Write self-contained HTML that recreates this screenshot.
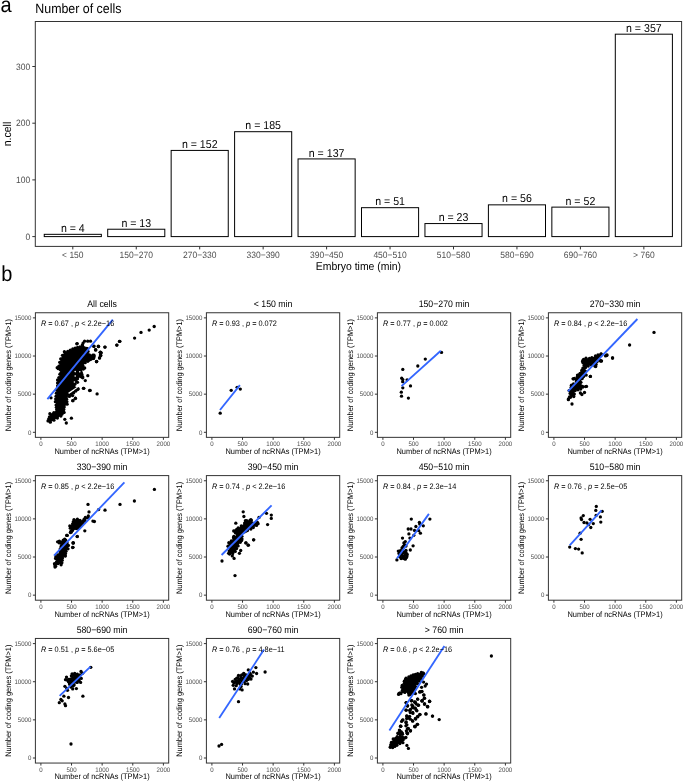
<!DOCTYPE html>
<html><head><meta charset="utf-8"><style>
html,body{margin:0;padding:0;background:#fff;width:685px;height:784px;overflow:hidden}
svg{display:block;will-change:transform}
text{font-family:"Liberation Sans", sans-serif;text-rendering:geometricPrecision}
</style></head><body>
<svg width="685" height="784" viewBox="0 0 685 784" font-family='"Liberation Sans", sans-serif'><text x="0" y="0" transform="translate(0.40,11.60) scale(1,1.08)" font-size="20" fill="#000" text-anchor="start" >a</text>
<text x="0" y="0" transform="translate(35.30,13.25) scale(1,1.08)" font-size="12.4" fill="#000" text-anchor="start" >Number of cells</text>
<rect x="35.30" y="21.50" width="646.30" height="224.90" stroke="#333" stroke-width="1" fill="none"/>
<line x1="32.30" y1="236.60" x2="35.30" y2="236.60" stroke="#333" stroke-width="1"/>
<text x="0" y="0" transform="translate(30.30,239.60) scale(1,1.08)" font-size="8.5" fill="#4d4d4d" text-anchor="end" >0</text>
<line x1="32.30" y1="179.90" x2="35.30" y2="179.90" stroke="#333" stroke-width="1"/>
<text x="0" y="0" transform="translate(30.30,182.90) scale(1,1.08)" font-size="8.5" fill="#4d4d4d" text-anchor="end" >100</text>
<line x1="32.30" y1="123.20" x2="35.30" y2="123.20" stroke="#333" stroke-width="1"/>
<text x="0" y="0" transform="translate(30.30,126.20) scale(1,1.08)" font-size="8.5" fill="#4d4d4d" text-anchor="end" >200</text>
<line x1="32.30" y1="66.50" x2="35.30" y2="66.50" stroke="#333" stroke-width="1"/>
<text x="0" y="0" transform="translate(30.30,69.50) scale(1,1.08)" font-size="8.5" fill="#4d4d4d" text-anchor="end" >300</text>
<rect x="44.25" y="234.33" width="57.10" height="2.27" stroke="#000" stroke-width="1" fill="#fff"/>
<line x1="72.80" y1="246.40" x2="72.80" y2="249.40" stroke="#333" stroke-width="1"/>
<text x="0" y="0" transform="translate(72.80,258.00) scale(1,1.08)" font-size="8.5" fill="#4d4d4d" text-anchor="middle" >&lt; 150</text>
<text x="0" y="0" transform="translate(72.80,231.93) scale(1,1.08)" font-size="10.6" fill="#000" text-anchor="middle" >n = 4</text>
<rect x="107.70" y="229.23" width="57.10" height="7.37" stroke="#000" stroke-width="1" fill="#fff"/>
<line x1="136.25" y1="246.40" x2="136.25" y2="249.40" stroke="#333" stroke-width="1"/>
<text x="0" y="0" transform="translate(136.25,258.00) scale(1,1.08)" font-size="8.5" fill="#4d4d4d" text-anchor="middle" >150−270</text>
<text x="0" y="0" transform="translate(136.25,226.83) scale(1,1.08)" font-size="10.6" fill="#000" text-anchor="middle" >n = 13</text>
<rect x="171.15" y="150.42" width="57.10" height="86.18" stroke="#000" stroke-width="1" fill="#fff"/>
<line x1="199.70" y1="246.40" x2="199.70" y2="249.40" stroke="#333" stroke-width="1"/>
<text x="0" y="0" transform="translate(199.70,258.00) scale(1,1.08)" font-size="8.5" fill="#4d4d4d" text-anchor="middle" >270−330</text>
<text x="0" y="0" transform="translate(199.70,148.02) scale(1,1.08)" font-size="10.6" fill="#000" text-anchor="middle" >n = 152</text>
<rect x="234.60" y="131.70" width="57.10" height="104.90" stroke="#000" stroke-width="1" fill="#fff"/>
<line x1="263.15" y1="246.40" x2="263.15" y2="249.40" stroke="#333" stroke-width="1"/>
<text x="0" y="0" transform="translate(263.15,258.00) scale(1,1.08)" font-size="8.5" fill="#4d4d4d" text-anchor="middle" >330−390</text>
<text x="0" y="0" transform="translate(263.15,129.30) scale(1,1.08)" font-size="10.6" fill="#000" text-anchor="middle" >n = 185</text>
<rect x="298.05" y="158.92" width="57.10" height="77.68" stroke="#000" stroke-width="1" fill="#fff"/>
<line x1="326.60" y1="246.40" x2="326.60" y2="249.40" stroke="#333" stroke-width="1"/>
<text x="0" y="0" transform="translate(326.60,258.00) scale(1,1.08)" font-size="8.5" fill="#4d4d4d" text-anchor="middle" >390−450</text>
<text x="0" y="0" transform="translate(326.60,156.52) scale(1,1.08)" font-size="10.6" fill="#000" text-anchor="middle" >n = 137</text>
<rect x="361.50" y="207.68" width="57.10" height="28.92" stroke="#000" stroke-width="1" fill="#fff"/>
<line x1="390.05" y1="246.40" x2="390.05" y2="249.40" stroke="#333" stroke-width="1"/>
<text x="0" y="0" transform="translate(390.05,258.00) scale(1,1.08)" font-size="8.5" fill="#4d4d4d" text-anchor="middle" >450−510</text>
<text x="0" y="0" transform="translate(390.05,205.28) scale(1,1.08)" font-size="10.6" fill="#000" text-anchor="middle" >n = 51</text>
<rect x="424.95" y="223.56" width="57.10" height="13.04" stroke="#000" stroke-width="1" fill="#fff"/>
<line x1="453.50" y1="246.40" x2="453.50" y2="249.40" stroke="#333" stroke-width="1"/>
<text x="0" y="0" transform="translate(453.50,258.00) scale(1,1.08)" font-size="8.5" fill="#4d4d4d" text-anchor="middle" >510−580</text>
<text x="0" y="0" transform="translate(453.50,221.16) scale(1,1.08)" font-size="10.6" fill="#000" text-anchor="middle" >n = 23</text>
<rect x="488.40" y="204.85" width="57.10" height="31.75" stroke="#000" stroke-width="1" fill="#fff"/>
<line x1="516.95" y1="246.40" x2="516.95" y2="249.40" stroke="#333" stroke-width="1"/>
<text x="0" y="0" transform="translate(516.95,258.00) scale(1,1.08)" font-size="8.5" fill="#4d4d4d" text-anchor="middle" >580−690</text>
<text x="0" y="0" transform="translate(516.95,202.45) scale(1,1.08)" font-size="10.6" fill="#000" text-anchor="middle" >n = 56</text>
<rect x="551.85" y="207.12" width="57.10" height="29.48" stroke="#000" stroke-width="1" fill="#fff"/>
<line x1="580.40" y1="246.40" x2="580.40" y2="249.40" stroke="#333" stroke-width="1"/>
<text x="0" y="0" transform="translate(580.40,258.00) scale(1,1.08)" font-size="8.5" fill="#4d4d4d" text-anchor="middle" >690−760</text>
<text x="0" y="0" transform="translate(580.40,204.72) scale(1,1.08)" font-size="10.6" fill="#000" text-anchor="middle" >n = 52</text>
<rect x="615.30" y="34.18" width="57.10" height="202.42" stroke="#000" stroke-width="1" fill="#fff"/>
<line x1="643.85" y1="246.40" x2="643.85" y2="249.40" stroke="#333" stroke-width="1"/>
<text x="0" y="0" transform="translate(643.85,258.00) scale(1,1.08)" font-size="8.5" fill="#4d4d4d" text-anchor="middle" >&gt; 760</text>
<text x="0" y="0" transform="translate(643.85,31.78) scale(1,1.08)" font-size="10.6" fill="#000" text-anchor="middle" >n = 357</text>
<text x="0" y="0" transform="translate(358.45,270.40) scale(1,1.08)" font-size="10.45" fill="#000" text-anchor="middle" >Embryo time (min)</text>
<text x="0" y="0" font-size="10.5" text-anchor="middle" transform="translate(11.2,134) rotate(-90) scale(1,1.08)">n.cell</text>
<text x="0" y="0" transform="translate(1.20,281.20) scale(1,1.08)" font-size="20" fill="#000" text-anchor="start" >b</text>
<rect x="35.40" y="312.75" width="133.30" height="124.60" stroke="#333" stroke-width="1" fill="none"/>
<text x="0" y="0" transform="translate(102.05,307.15) scale(1,1.08)" font-size="8.75" fill="#000" text-anchor="middle" >All cells</text>
<line x1="32.90" y1="432.30" x2="35.40" y2="432.30" stroke="#333" stroke-width="1"/>
<text x="0" y="0" transform="translate(31.40,434.50) scale(1,1.08)" font-size="6.1" fill="#4d4d4d" text-anchor="end" >0</text>
<line x1="32.90" y1="394.17" x2="35.40" y2="394.17" stroke="#333" stroke-width="1"/>
<text x="0" y="0" transform="translate(31.40,396.37) scale(1,1.08)" font-size="6.1" fill="#4d4d4d" text-anchor="end" >5000</text>
<line x1="32.90" y1="356.03" x2="35.40" y2="356.03" stroke="#333" stroke-width="1"/>
<text x="0" y="0" transform="translate(31.40,358.23) scale(1,1.08)" font-size="6.1" fill="#4d4d4d" text-anchor="end" >10000</text>
<line x1="32.90" y1="317.89" x2="35.40" y2="317.89" stroke="#333" stroke-width="1"/>
<text x="0" y="0" transform="translate(31.40,320.09) scale(1,1.08)" font-size="6.1" fill="#4d4d4d" text-anchor="end" >15000</text>
<line x1="40.90" y1="437.35" x2="40.90" y2="439.85" stroke="#333" stroke-width="1"/>
<text x="0" y="0" transform="translate(40.90,445.85) scale(1,1.08)" font-size="6.1" fill="#4d4d4d" text-anchor="middle" >0</text>
<line x1="71.53" y1="437.35" x2="71.53" y2="439.85" stroke="#333" stroke-width="1"/>
<text x="0" y="0" transform="translate(71.53,445.85) scale(1,1.08)" font-size="6.1" fill="#4d4d4d" text-anchor="middle" >500</text>
<line x1="102.15" y1="437.35" x2="102.15" y2="439.85" stroke="#333" stroke-width="1"/>
<text x="0" y="0" transform="translate(102.15,445.85) scale(1,1.08)" font-size="6.1" fill="#4d4d4d" text-anchor="middle" >1000</text>
<line x1="132.78" y1="437.35" x2="132.78" y2="439.85" stroke="#333" stroke-width="1"/>
<text x="0" y="0" transform="translate(132.78,445.85) scale(1,1.08)" font-size="6.1" fill="#4d4d4d" text-anchor="middle" >1500</text>
<line x1="163.40" y1="437.35" x2="163.40" y2="439.85" stroke="#333" stroke-width="1"/>
<text x="0" y="0" transform="translate(163.40,445.85) scale(1,1.08)" font-size="6.1" fill="#4d4d4d" text-anchor="middle" >2000</text>
<text x="0" y="0" transform="translate(102.05,453.75) scale(1,1.08)" font-size="7.45" fill="#000" text-anchor="middle" >Number of ncRNAs (TPM&gt;1)</text>
<text x="0" y="0" font-size="7.45" text-anchor="middle" transform="translate(11.10,375.05) rotate(-90) scale(1,1.08)">Number of coding genes (TPM&gt;1)</text>
<rect x="206.40" y="312.75" width="133.30" height="124.60" stroke="#333" stroke-width="1" fill="none"/>
<text x="0" y="0" transform="translate(273.05,307.15) scale(1,1.08)" font-size="8.75" fill="#000" text-anchor="middle" >&lt; 150 min</text>
<line x1="203.90" y1="432.30" x2="206.40" y2="432.30" stroke="#333" stroke-width="1"/>
<text x="0" y="0" transform="translate(202.40,434.50) scale(1,1.08)" font-size="6.1" fill="#4d4d4d" text-anchor="end" >0</text>
<line x1="203.90" y1="394.17" x2="206.40" y2="394.17" stroke="#333" stroke-width="1"/>
<text x="0" y="0" transform="translate(202.40,396.37) scale(1,1.08)" font-size="6.1" fill="#4d4d4d" text-anchor="end" >5000</text>
<line x1="203.90" y1="356.03" x2="206.40" y2="356.03" stroke="#333" stroke-width="1"/>
<text x="0" y="0" transform="translate(202.40,358.23) scale(1,1.08)" font-size="6.1" fill="#4d4d4d" text-anchor="end" >10000</text>
<line x1="203.90" y1="317.89" x2="206.40" y2="317.89" stroke="#333" stroke-width="1"/>
<text x="0" y="0" transform="translate(202.40,320.09) scale(1,1.08)" font-size="6.1" fill="#4d4d4d" text-anchor="end" >15000</text>
<line x1="211.90" y1="437.35" x2="211.90" y2="439.85" stroke="#333" stroke-width="1"/>
<text x="0" y="0" transform="translate(211.90,445.85) scale(1,1.08)" font-size="6.1" fill="#4d4d4d" text-anchor="middle" >0</text>
<line x1="242.53" y1="437.35" x2="242.53" y2="439.85" stroke="#333" stroke-width="1"/>
<text x="0" y="0" transform="translate(242.53,445.85) scale(1,1.08)" font-size="6.1" fill="#4d4d4d" text-anchor="middle" >500</text>
<line x1="273.15" y1="437.35" x2="273.15" y2="439.85" stroke="#333" stroke-width="1"/>
<text x="0" y="0" transform="translate(273.15,445.85) scale(1,1.08)" font-size="6.1" fill="#4d4d4d" text-anchor="middle" >1000</text>
<line x1="303.77" y1="437.35" x2="303.77" y2="439.85" stroke="#333" stroke-width="1"/>
<text x="0" y="0" transform="translate(303.77,445.85) scale(1,1.08)" font-size="6.1" fill="#4d4d4d" text-anchor="middle" >1500</text>
<line x1="334.40" y1="437.35" x2="334.40" y2="439.85" stroke="#333" stroke-width="1"/>
<text x="0" y="0" transform="translate(334.40,445.85) scale(1,1.08)" font-size="6.1" fill="#4d4d4d" text-anchor="middle" >2000</text>
<text x="0" y="0" transform="translate(273.05,453.75) scale(1,1.08)" font-size="7.45" fill="#000" text-anchor="middle" >Number of ncRNAs (TPM&gt;1)</text>
<text x="0" y="0" font-size="7.45" text-anchor="middle" transform="translate(182.10,375.05) rotate(-90) scale(1,1.08)">Number of coding genes (TPM&gt;1)</text>
<rect x="377.40" y="312.75" width="133.30" height="124.60" stroke="#333" stroke-width="1" fill="none"/>
<text x="0" y="0" transform="translate(444.05,307.15) scale(1,1.08)" font-size="8.75" fill="#000" text-anchor="middle" >150−270 min</text>
<line x1="374.90" y1="432.30" x2="377.40" y2="432.30" stroke="#333" stroke-width="1"/>
<text x="0" y="0" transform="translate(373.40,434.50) scale(1,1.08)" font-size="6.1" fill="#4d4d4d" text-anchor="end" >0</text>
<line x1="374.90" y1="394.17" x2="377.40" y2="394.17" stroke="#333" stroke-width="1"/>
<text x="0" y="0" transform="translate(373.40,396.37) scale(1,1.08)" font-size="6.1" fill="#4d4d4d" text-anchor="end" >5000</text>
<line x1="374.90" y1="356.03" x2="377.40" y2="356.03" stroke="#333" stroke-width="1"/>
<text x="0" y="0" transform="translate(373.40,358.23) scale(1,1.08)" font-size="6.1" fill="#4d4d4d" text-anchor="end" >10000</text>
<line x1="374.90" y1="317.89" x2="377.40" y2="317.89" stroke="#333" stroke-width="1"/>
<text x="0" y="0" transform="translate(373.40,320.09) scale(1,1.08)" font-size="6.1" fill="#4d4d4d" text-anchor="end" >15000</text>
<line x1="382.90" y1="437.35" x2="382.90" y2="439.85" stroke="#333" stroke-width="1"/>
<text x="0" y="0" transform="translate(382.90,445.85) scale(1,1.08)" font-size="6.1" fill="#4d4d4d" text-anchor="middle" >0</text>
<line x1="413.52" y1="437.35" x2="413.52" y2="439.85" stroke="#333" stroke-width="1"/>
<text x="0" y="0" transform="translate(413.52,445.85) scale(1,1.08)" font-size="6.1" fill="#4d4d4d" text-anchor="middle" >500</text>
<line x1="444.15" y1="437.35" x2="444.15" y2="439.85" stroke="#333" stroke-width="1"/>
<text x="0" y="0" transform="translate(444.15,445.85) scale(1,1.08)" font-size="6.1" fill="#4d4d4d" text-anchor="middle" >1000</text>
<line x1="474.77" y1="437.35" x2="474.77" y2="439.85" stroke="#333" stroke-width="1"/>
<text x="0" y="0" transform="translate(474.77,445.85) scale(1,1.08)" font-size="6.1" fill="#4d4d4d" text-anchor="middle" >1500</text>
<line x1="505.40" y1="437.35" x2="505.40" y2="439.85" stroke="#333" stroke-width="1"/>
<text x="0" y="0" transform="translate(505.40,445.85) scale(1,1.08)" font-size="6.1" fill="#4d4d4d" text-anchor="middle" >2000</text>
<text x="0" y="0" transform="translate(444.05,453.75) scale(1,1.08)" font-size="7.45" fill="#000" text-anchor="middle" >Number of ncRNAs (TPM&gt;1)</text>
<text x="0" y="0" font-size="7.45" text-anchor="middle" transform="translate(353.10,375.05) rotate(-90) scale(1,1.08)">Number of coding genes (TPM&gt;1)</text>
<rect x="548.40" y="312.75" width="133.30" height="124.60" stroke="#333" stroke-width="1" fill="none"/>
<text x="0" y="0" transform="translate(615.05,307.15) scale(1,1.08)" font-size="8.75" fill="#000" text-anchor="middle" >270−330 min</text>
<line x1="545.90" y1="432.30" x2="548.40" y2="432.30" stroke="#333" stroke-width="1"/>
<text x="0" y="0" transform="translate(544.40,434.50) scale(1,1.08)" font-size="6.1" fill="#4d4d4d" text-anchor="end" >0</text>
<line x1="545.90" y1="394.17" x2="548.40" y2="394.17" stroke="#333" stroke-width="1"/>
<text x="0" y="0" transform="translate(544.40,396.37) scale(1,1.08)" font-size="6.1" fill="#4d4d4d" text-anchor="end" >5000</text>
<line x1="545.90" y1="356.03" x2="548.40" y2="356.03" stroke="#333" stroke-width="1"/>
<text x="0" y="0" transform="translate(544.40,358.23) scale(1,1.08)" font-size="6.1" fill="#4d4d4d" text-anchor="end" >10000</text>
<line x1="545.90" y1="317.89" x2="548.40" y2="317.89" stroke="#333" stroke-width="1"/>
<text x="0" y="0" transform="translate(544.40,320.09) scale(1,1.08)" font-size="6.1" fill="#4d4d4d" text-anchor="end" >15000</text>
<line x1="553.90" y1="437.35" x2="553.90" y2="439.85" stroke="#333" stroke-width="1"/>
<text x="0" y="0" transform="translate(553.90,445.85) scale(1,1.08)" font-size="6.1" fill="#4d4d4d" text-anchor="middle" >0</text>
<line x1="584.52" y1="437.35" x2="584.52" y2="439.85" stroke="#333" stroke-width="1"/>
<text x="0" y="0" transform="translate(584.52,445.85) scale(1,1.08)" font-size="6.1" fill="#4d4d4d" text-anchor="middle" >500</text>
<line x1="615.15" y1="437.35" x2="615.15" y2="439.85" stroke="#333" stroke-width="1"/>
<text x="0" y="0" transform="translate(615.15,445.85) scale(1,1.08)" font-size="6.1" fill="#4d4d4d" text-anchor="middle" >1000</text>
<line x1="645.77" y1="437.35" x2="645.77" y2="439.85" stroke="#333" stroke-width="1"/>
<text x="0" y="0" transform="translate(645.77,445.85) scale(1,1.08)" font-size="6.1" fill="#4d4d4d" text-anchor="middle" >1500</text>
<line x1="676.40" y1="437.35" x2="676.40" y2="439.85" stroke="#333" stroke-width="1"/>
<text x="0" y="0" transform="translate(676.40,445.85) scale(1,1.08)" font-size="6.1" fill="#4d4d4d" text-anchor="middle" >2000</text>
<text x="0" y="0" transform="translate(615.05,453.75) scale(1,1.08)" font-size="7.45" fill="#000" text-anchor="middle" >Number of ncRNAs (TPM&gt;1)</text>
<text x="0" y="0" font-size="7.45" text-anchor="middle" transform="translate(524.10,375.05) rotate(-90) scale(1,1.08)">Number of coding genes (TPM&gt;1)</text>
<rect x="35.40" y="475.60" width="133.30" height="124.60" stroke="#333" stroke-width="1" fill="none"/>
<text x="0" y="0" transform="translate(102.05,470.00) scale(1,1.08)" font-size="8.75" fill="#000" text-anchor="middle" >330−390 min</text>
<line x1="32.90" y1="595.15" x2="35.40" y2="595.15" stroke="#333" stroke-width="1"/>
<text x="0" y="0" transform="translate(31.40,597.35) scale(1,1.08)" font-size="6.1" fill="#4d4d4d" text-anchor="end" >0</text>
<line x1="32.90" y1="557.01" x2="35.40" y2="557.01" stroke="#333" stroke-width="1"/>
<text x="0" y="0" transform="translate(31.40,559.22) scale(1,1.08)" font-size="6.1" fill="#4d4d4d" text-anchor="end" >5000</text>
<line x1="32.90" y1="518.88" x2="35.40" y2="518.88" stroke="#333" stroke-width="1"/>
<text x="0" y="0" transform="translate(31.40,521.08) scale(1,1.08)" font-size="6.1" fill="#4d4d4d" text-anchor="end" >10000</text>
<line x1="32.90" y1="480.75" x2="35.40" y2="480.75" stroke="#333" stroke-width="1"/>
<text x="0" y="0" transform="translate(31.40,482.94) scale(1,1.08)" font-size="6.1" fill="#4d4d4d" text-anchor="end" >15000</text>
<line x1="40.90" y1="600.20" x2="40.90" y2="602.70" stroke="#333" stroke-width="1"/>
<text x="0" y="0" transform="translate(40.90,608.70) scale(1,1.08)" font-size="6.1" fill="#4d4d4d" text-anchor="middle" >0</text>
<line x1="71.53" y1="600.20" x2="71.53" y2="602.70" stroke="#333" stroke-width="1"/>
<text x="0" y="0" transform="translate(71.53,608.70) scale(1,1.08)" font-size="6.1" fill="#4d4d4d" text-anchor="middle" >500</text>
<line x1="102.15" y1="600.20" x2="102.15" y2="602.70" stroke="#333" stroke-width="1"/>
<text x="0" y="0" transform="translate(102.15,608.70) scale(1,1.08)" font-size="6.1" fill="#4d4d4d" text-anchor="middle" >1000</text>
<line x1="132.78" y1="600.20" x2="132.78" y2="602.70" stroke="#333" stroke-width="1"/>
<text x="0" y="0" transform="translate(132.78,608.70) scale(1,1.08)" font-size="6.1" fill="#4d4d4d" text-anchor="middle" >1500</text>
<line x1="163.40" y1="600.20" x2="163.40" y2="602.70" stroke="#333" stroke-width="1"/>
<text x="0" y="0" transform="translate(163.40,608.70) scale(1,1.08)" font-size="6.1" fill="#4d4d4d" text-anchor="middle" >2000</text>
<text x="0" y="0" transform="translate(102.05,616.60) scale(1,1.08)" font-size="7.45" fill="#000" text-anchor="middle" >Number of ncRNAs (TPM&gt;1)</text>
<text x="0" y="0" font-size="7.45" text-anchor="middle" transform="translate(11.10,537.90) rotate(-90) scale(1,1.08)">Number of coding genes (TPM&gt;1)</text>
<rect x="206.40" y="475.60" width="133.30" height="124.60" stroke="#333" stroke-width="1" fill="none"/>
<text x="0" y="0" transform="translate(273.05,470.00) scale(1,1.08)" font-size="8.75" fill="#000" text-anchor="middle" >390−450 min</text>
<line x1="203.90" y1="595.15" x2="206.40" y2="595.15" stroke="#333" stroke-width="1"/>
<text x="0" y="0" transform="translate(202.40,597.35) scale(1,1.08)" font-size="6.1" fill="#4d4d4d" text-anchor="end" >0</text>
<line x1="203.90" y1="557.01" x2="206.40" y2="557.01" stroke="#333" stroke-width="1"/>
<text x="0" y="0" transform="translate(202.40,559.22) scale(1,1.08)" font-size="6.1" fill="#4d4d4d" text-anchor="end" >5000</text>
<line x1="203.90" y1="518.88" x2="206.40" y2="518.88" stroke="#333" stroke-width="1"/>
<text x="0" y="0" transform="translate(202.40,521.08) scale(1,1.08)" font-size="6.1" fill="#4d4d4d" text-anchor="end" >10000</text>
<line x1="203.90" y1="480.75" x2="206.40" y2="480.75" stroke="#333" stroke-width="1"/>
<text x="0" y="0" transform="translate(202.40,482.94) scale(1,1.08)" font-size="6.1" fill="#4d4d4d" text-anchor="end" >15000</text>
<line x1="211.90" y1="600.20" x2="211.90" y2="602.70" stroke="#333" stroke-width="1"/>
<text x="0" y="0" transform="translate(211.90,608.70) scale(1,1.08)" font-size="6.1" fill="#4d4d4d" text-anchor="middle" >0</text>
<line x1="242.53" y1="600.20" x2="242.53" y2="602.70" stroke="#333" stroke-width="1"/>
<text x="0" y="0" transform="translate(242.53,608.70) scale(1,1.08)" font-size="6.1" fill="#4d4d4d" text-anchor="middle" >500</text>
<line x1="273.15" y1="600.20" x2="273.15" y2="602.70" stroke="#333" stroke-width="1"/>
<text x="0" y="0" transform="translate(273.15,608.70) scale(1,1.08)" font-size="6.1" fill="#4d4d4d" text-anchor="middle" >1000</text>
<line x1="303.77" y1="600.20" x2="303.77" y2="602.70" stroke="#333" stroke-width="1"/>
<text x="0" y="0" transform="translate(303.77,608.70) scale(1,1.08)" font-size="6.1" fill="#4d4d4d" text-anchor="middle" >1500</text>
<line x1="334.40" y1="600.20" x2="334.40" y2="602.70" stroke="#333" stroke-width="1"/>
<text x="0" y="0" transform="translate(334.40,608.70) scale(1,1.08)" font-size="6.1" fill="#4d4d4d" text-anchor="middle" >2000</text>
<text x="0" y="0" transform="translate(273.05,616.60) scale(1,1.08)" font-size="7.45" fill="#000" text-anchor="middle" >Number of ncRNAs (TPM&gt;1)</text>
<text x="0" y="0" font-size="7.45" text-anchor="middle" transform="translate(182.10,537.90) rotate(-90) scale(1,1.08)">Number of coding genes (TPM&gt;1)</text>
<rect x="377.40" y="475.60" width="133.30" height="124.60" stroke="#333" stroke-width="1" fill="none"/>
<text x="0" y="0" transform="translate(444.05,470.00) scale(1,1.08)" font-size="8.75" fill="#000" text-anchor="middle" >450−510 min</text>
<line x1="374.90" y1="595.15" x2="377.40" y2="595.15" stroke="#333" stroke-width="1"/>
<text x="0" y="0" transform="translate(373.40,597.35) scale(1,1.08)" font-size="6.1" fill="#4d4d4d" text-anchor="end" >0</text>
<line x1="374.90" y1="557.01" x2="377.40" y2="557.01" stroke="#333" stroke-width="1"/>
<text x="0" y="0" transform="translate(373.40,559.22) scale(1,1.08)" font-size="6.1" fill="#4d4d4d" text-anchor="end" >5000</text>
<line x1="374.90" y1="518.88" x2="377.40" y2="518.88" stroke="#333" stroke-width="1"/>
<text x="0" y="0" transform="translate(373.40,521.08) scale(1,1.08)" font-size="6.1" fill="#4d4d4d" text-anchor="end" >10000</text>
<line x1="374.90" y1="480.75" x2="377.40" y2="480.75" stroke="#333" stroke-width="1"/>
<text x="0" y="0" transform="translate(373.40,482.94) scale(1,1.08)" font-size="6.1" fill="#4d4d4d" text-anchor="end" >15000</text>
<line x1="382.90" y1="600.20" x2="382.90" y2="602.70" stroke="#333" stroke-width="1"/>
<text x="0" y="0" transform="translate(382.90,608.70) scale(1,1.08)" font-size="6.1" fill="#4d4d4d" text-anchor="middle" >0</text>
<line x1="413.52" y1="600.20" x2="413.52" y2="602.70" stroke="#333" stroke-width="1"/>
<text x="0" y="0" transform="translate(413.52,608.70) scale(1,1.08)" font-size="6.1" fill="#4d4d4d" text-anchor="middle" >500</text>
<line x1="444.15" y1="600.20" x2="444.15" y2="602.70" stroke="#333" stroke-width="1"/>
<text x="0" y="0" transform="translate(444.15,608.70) scale(1,1.08)" font-size="6.1" fill="#4d4d4d" text-anchor="middle" >1000</text>
<line x1="474.77" y1="600.20" x2="474.77" y2="602.70" stroke="#333" stroke-width="1"/>
<text x="0" y="0" transform="translate(474.77,608.70) scale(1,1.08)" font-size="6.1" fill="#4d4d4d" text-anchor="middle" >1500</text>
<line x1="505.40" y1="600.20" x2="505.40" y2="602.70" stroke="#333" stroke-width="1"/>
<text x="0" y="0" transform="translate(505.40,608.70) scale(1,1.08)" font-size="6.1" fill="#4d4d4d" text-anchor="middle" >2000</text>
<text x="0" y="0" transform="translate(444.05,616.60) scale(1,1.08)" font-size="7.45" fill="#000" text-anchor="middle" >Number of ncRNAs (TPM&gt;1)</text>
<text x="0" y="0" font-size="7.45" text-anchor="middle" transform="translate(353.10,537.90) rotate(-90) scale(1,1.08)">Number of coding genes (TPM&gt;1)</text>
<rect x="548.40" y="475.60" width="133.30" height="124.60" stroke="#333" stroke-width="1" fill="none"/>
<text x="0" y="0" transform="translate(615.05,470.00) scale(1,1.08)" font-size="8.75" fill="#000" text-anchor="middle" >510−580 min</text>
<line x1="545.90" y1="595.15" x2="548.40" y2="595.15" stroke="#333" stroke-width="1"/>
<text x="0" y="0" transform="translate(544.40,597.35) scale(1,1.08)" font-size="6.1" fill="#4d4d4d" text-anchor="end" >0</text>
<line x1="545.90" y1="557.01" x2="548.40" y2="557.01" stroke="#333" stroke-width="1"/>
<text x="0" y="0" transform="translate(544.40,559.22) scale(1,1.08)" font-size="6.1" fill="#4d4d4d" text-anchor="end" >5000</text>
<line x1="545.90" y1="518.88" x2="548.40" y2="518.88" stroke="#333" stroke-width="1"/>
<text x="0" y="0" transform="translate(544.40,521.08) scale(1,1.08)" font-size="6.1" fill="#4d4d4d" text-anchor="end" >10000</text>
<line x1="545.90" y1="480.75" x2="548.40" y2="480.75" stroke="#333" stroke-width="1"/>
<text x="0" y="0" transform="translate(544.40,482.94) scale(1,1.08)" font-size="6.1" fill="#4d4d4d" text-anchor="end" >15000</text>
<line x1="553.90" y1="600.20" x2="553.90" y2="602.70" stroke="#333" stroke-width="1"/>
<text x="0" y="0" transform="translate(553.90,608.70) scale(1,1.08)" font-size="6.1" fill="#4d4d4d" text-anchor="middle" >0</text>
<line x1="584.52" y1="600.20" x2="584.52" y2="602.70" stroke="#333" stroke-width="1"/>
<text x="0" y="0" transform="translate(584.52,608.70) scale(1,1.08)" font-size="6.1" fill="#4d4d4d" text-anchor="middle" >500</text>
<line x1="615.15" y1="600.20" x2="615.15" y2="602.70" stroke="#333" stroke-width="1"/>
<text x="0" y="0" transform="translate(615.15,608.70) scale(1,1.08)" font-size="6.1" fill="#4d4d4d" text-anchor="middle" >1000</text>
<line x1="645.77" y1="600.20" x2="645.77" y2="602.70" stroke="#333" stroke-width="1"/>
<text x="0" y="0" transform="translate(645.77,608.70) scale(1,1.08)" font-size="6.1" fill="#4d4d4d" text-anchor="middle" >1500</text>
<line x1="676.40" y1="600.20" x2="676.40" y2="602.70" stroke="#333" stroke-width="1"/>
<text x="0" y="0" transform="translate(676.40,608.70) scale(1,1.08)" font-size="6.1" fill="#4d4d4d" text-anchor="middle" >2000</text>
<text x="0" y="0" transform="translate(615.05,616.60) scale(1,1.08)" font-size="7.45" fill="#000" text-anchor="middle" >Number of ncRNAs (TPM&gt;1)</text>
<text x="0" y="0" font-size="7.45" text-anchor="middle" transform="translate(524.10,537.90) rotate(-90) scale(1,1.08)">Number of coding genes (TPM&gt;1)</text>
<rect x="35.40" y="638.45" width="133.30" height="124.60" stroke="#333" stroke-width="1" fill="none"/>
<text x="0" y="0" transform="translate(102.05,632.85) scale(1,1.08)" font-size="8.75" fill="#000" text-anchor="middle" >580−690 min</text>
<line x1="32.90" y1="758.00" x2="35.40" y2="758.00" stroke="#333" stroke-width="1"/>
<text x="0" y="0" transform="translate(31.40,760.20) scale(1,1.08)" font-size="6.1" fill="#4d4d4d" text-anchor="end" >0</text>
<line x1="32.90" y1="719.87" x2="35.40" y2="719.87" stroke="#333" stroke-width="1"/>
<text x="0" y="0" transform="translate(31.40,722.07) scale(1,1.08)" font-size="6.1" fill="#4d4d4d" text-anchor="end" >5000</text>
<line x1="32.90" y1="681.73" x2="35.40" y2="681.73" stroke="#333" stroke-width="1"/>
<text x="0" y="0" transform="translate(31.40,683.93) scale(1,1.08)" font-size="6.1" fill="#4d4d4d" text-anchor="end" >10000</text>
<line x1="32.90" y1="643.60" x2="35.40" y2="643.60" stroke="#333" stroke-width="1"/>
<text x="0" y="0" transform="translate(31.40,645.80) scale(1,1.08)" font-size="6.1" fill="#4d4d4d" text-anchor="end" >15000</text>
<line x1="40.90" y1="763.05" x2="40.90" y2="765.55" stroke="#333" stroke-width="1"/>
<text x="0" y="0" transform="translate(40.90,771.55) scale(1,1.08)" font-size="6.1" fill="#4d4d4d" text-anchor="middle" >0</text>
<line x1="71.53" y1="763.05" x2="71.53" y2="765.55" stroke="#333" stroke-width="1"/>
<text x="0" y="0" transform="translate(71.53,771.55) scale(1,1.08)" font-size="6.1" fill="#4d4d4d" text-anchor="middle" >500</text>
<line x1="102.15" y1="763.05" x2="102.15" y2="765.55" stroke="#333" stroke-width="1"/>
<text x="0" y="0" transform="translate(102.15,771.55) scale(1,1.08)" font-size="6.1" fill="#4d4d4d" text-anchor="middle" >1000</text>
<line x1="132.78" y1="763.05" x2="132.78" y2="765.55" stroke="#333" stroke-width="1"/>
<text x="0" y="0" transform="translate(132.78,771.55) scale(1,1.08)" font-size="6.1" fill="#4d4d4d" text-anchor="middle" >1500</text>
<line x1="163.40" y1="763.05" x2="163.40" y2="765.55" stroke="#333" stroke-width="1"/>
<text x="0" y="0" transform="translate(163.40,771.55) scale(1,1.08)" font-size="6.1" fill="#4d4d4d" text-anchor="middle" >2000</text>
<text x="0" y="0" transform="translate(102.05,779.45) scale(1,1.08)" font-size="7.45" fill="#000" text-anchor="middle" >Number of ncRNAs (TPM&gt;1)</text>
<text x="0" y="0" font-size="7.45" text-anchor="middle" transform="translate(11.10,700.75) rotate(-90) scale(1,1.08)">Number of coding genes (TPM&gt;1)</text>
<rect x="206.40" y="638.45" width="133.30" height="124.60" stroke="#333" stroke-width="1" fill="none"/>
<text x="0" y="0" transform="translate(273.05,632.85) scale(1,1.08)" font-size="8.75" fill="#000" text-anchor="middle" >690−760 min</text>
<line x1="203.90" y1="758.00" x2="206.40" y2="758.00" stroke="#333" stroke-width="1"/>
<text x="0" y="0" transform="translate(202.40,760.20) scale(1,1.08)" font-size="6.1" fill="#4d4d4d" text-anchor="end" >0</text>
<line x1="203.90" y1="719.87" x2="206.40" y2="719.87" stroke="#333" stroke-width="1"/>
<text x="0" y="0" transform="translate(202.40,722.07) scale(1,1.08)" font-size="6.1" fill="#4d4d4d" text-anchor="end" >5000</text>
<line x1="203.90" y1="681.73" x2="206.40" y2="681.73" stroke="#333" stroke-width="1"/>
<text x="0" y="0" transform="translate(202.40,683.93) scale(1,1.08)" font-size="6.1" fill="#4d4d4d" text-anchor="end" >10000</text>
<line x1="203.90" y1="643.60" x2="206.40" y2="643.60" stroke="#333" stroke-width="1"/>
<text x="0" y="0" transform="translate(202.40,645.80) scale(1,1.08)" font-size="6.1" fill="#4d4d4d" text-anchor="end" >15000</text>
<line x1="211.90" y1="763.05" x2="211.90" y2="765.55" stroke="#333" stroke-width="1"/>
<text x="0" y="0" transform="translate(211.90,771.55) scale(1,1.08)" font-size="6.1" fill="#4d4d4d" text-anchor="middle" >0</text>
<line x1="242.53" y1="763.05" x2="242.53" y2="765.55" stroke="#333" stroke-width="1"/>
<text x="0" y="0" transform="translate(242.53,771.55) scale(1,1.08)" font-size="6.1" fill="#4d4d4d" text-anchor="middle" >500</text>
<line x1="273.15" y1="763.05" x2="273.15" y2="765.55" stroke="#333" stroke-width="1"/>
<text x="0" y="0" transform="translate(273.15,771.55) scale(1,1.08)" font-size="6.1" fill="#4d4d4d" text-anchor="middle" >1000</text>
<line x1="303.77" y1="763.05" x2="303.77" y2="765.55" stroke="#333" stroke-width="1"/>
<text x="0" y="0" transform="translate(303.77,771.55) scale(1,1.08)" font-size="6.1" fill="#4d4d4d" text-anchor="middle" >1500</text>
<line x1="334.40" y1="763.05" x2="334.40" y2="765.55" stroke="#333" stroke-width="1"/>
<text x="0" y="0" transform="translate(334.40,771.55) scale(1,1.08)" font-size="6.1" fill="#4d4d4d" text-anchor="middle" >2000</text>
<text x="0" y="0" transform="translate(273.05,779.45) scale(1,1.08)" font-size="7.45" fill="#000" text-anchor="middle" >Number of ncRNAs (TPM&gt;1)</text>
<text x="0" y="0" font-size="7.45" text-anchor="middle" transform="translate(182.10,700.75) rotate(-90) scale(1,1.08)">Number of coding genes (TPM&gt;1)</text>
<rect x="377.40" y="638.45" width="133.30" height="124.60" stroke="#333" stroke-width="1" fill="none"/>
<text x="0" y="0" transform="translate(444.05,632.85) scale(1,1.08)" font-size="8.75" fill="#000" text-anchor="middle" >&gt; 760 min</text>
<line x1="374.90" y1="758.00" x2="377.40" y2="758.00" stroke="#333" stroke-width="1"/>
<text x="0" y="0" transform="translate(373.40,760.20) scale(1,1.08)" font-size="6.1" fill="#4d4d4d" text-anchor="end" >0</text>
<line x1="374.90" y1="719.87" x2="377.40" y2="719.87" stroke="#333" stroke-width="1"/>
<text x="0" y="0" transform="translate(373.40,722.07) scale(1,1.08)" font-size="6.1" fill="#4d4d4d" text-anchor="end" >5000</text>
<line x1="374.90" y1="681.73" x2="377.40" y2="681.73" stroke="#333" stroke-width="1"/>
<text x="0" y="0" transform="translate(373.40,683.93) scale(1,1.08)" font-size="6.1" fill="#4d4d4d" text-anchor="end" >10000</text>
<line x1="374.90" y1="643.60" x2="377.40" y2="643.60" stroke="#333" stroke-width="1"/>
<text x="0" y="0" transform="translate(373.40,645.80) scale(1,1.08)" font-size="6.1" fill="#4d4d4d" text-anchor="end" >15000</text>
<line x1="382.90" y1="763.05" x2="382.90" y2="765.55" stroke="#333" stroke-width="1"/>
<text x="0" y="0" transform="translate(382.90,771.55) scale(1,1.08)" font-size="6.1" fill="#4d4d4d" text-anchor="middle" >0</text>
<line x1="413.52" y1="763.05" x2="413.52" y2="765.55" stroke="#333" stroke-width="1"/>
<text x="0" y="0" transform="translate(413.52,771.55) scale(1,1.08)" font-size="6.1" fill="#4d4d4d" text-anchor="middle" >500</text>
<line x1="444.15" y1="763.05" x2="444.15" y2="765.55" stroke="#333" stroke-width="1"/>
<text x="0" y="0" transform="translate(444.15,771.55) scale(1,1.08)" font-size="6.1" fill="#4d4d4d" text-anchor="middle" >1000</text>
<line x1="474.77" y1="763.05" x2="474.77" y2="765.55" stroke="#333" stroke-width="1"/>
<text x="0" y="0" transform="translate(474.77,771.55) scale(1,1.08)" font-size="6.1" fill="#4d4d4d" text-anchor="middle" >1500</text>
<line x1="505.40" y1="763.05" x2="505.40" y2="765.55" stroke="#333" stroke-width="1"/>
<text x="0" y="0" transform="translate(505.40,771.55) scale(1,1.08)" font-size="6.1" fill="#4d4d4d" text-anchor="middle" >2000</text>
<text x="0" y="0" transform="translate(444.05,779.45) scale(1,1.08)" font-size="7.45" fill="#000" text-anchor="middle" >Number of ncRNAs (TPM&gt;1)</text>
<text x="0" y="0" font-size="7.45" text-anchor="middle" transform="translate(353.10,700.75) rotate(-90) scale(1,1.08)">Number of coding genes (TPM&gt;1)</text>
<polygon points="64.4,351.7 67.8,351.3 72.8,348.8 77.6,347.5 82.4,346.0 82.4,344.8 82.7,346.5 84.5,348.0 86.8,348.4 87.4,348.7 88.1,351.4 89.4,354.8 92.8,355.1 94.0,355.2 94.1,356.8 92.8,358.6 90.5,359.6 88.6,360.3 87.8,361.3 85.2,362.7 83.0,366.0 84.7,368.0 83.3,369.0 81.2,372.3 82.5,376.6 82.8,377.8 80.8,376.7 77.5,378.8 77.5,382.3 75.1,384.0 75.7,388.3 73.9,391.3 69.9,394.7 66.4,396.7 67.1,404.2 64.2,406.9 63.4,412.2 60.9,416.0 57.4,418.0 53.9,420.2 50.3,422.2 48.0,420.9 49.5,416.8 49.9,413.7 53.9,412.6 56.7,409.5 56.1,405.1 55.4,401.7 56.1,396.2 56.8,390.2 57.6,385.9 57.6,380.0 58.9,377.6 59.9,374.2 62.6,370.7 58.3,368.7 57.2,367.7 58.9,366.1 59.7,362.3 60.7,358.8 62.5,355.3" fill="#000"/>
<circle cx="64.4" cy="351.7" r="1.65" fill="#000"/>
<circle cx="67.8" cy="351.3" r="1.65" fill="#000"/>
<circle cx="70.3" cy="350.1" r="1.65" fill="#000"/>
<circle cx="72.8" cy="348.8" r="1.65" fill="#000"/>
<circle cx="75.2" cy="348.2" r="1.65" fill="#000"/>
<circle cx="77.6" cy="347.5" r="1.65" fill="#000"/>
<circle cx="80.0" cy="346.8" r="1.65" fill="#000"/>
<circle cx="82.4" cy="346.0" r="1.65" fill="#000"/>
<circle cx="82.4" cy="344.8" r="1.65" fill="#000"/>
<circle cx="82.7" cy="346.5" r="1.65" fill="#000"/>
<circle cx="84.5" cy="348.0" r="1.65" fill="#000"/>
<circle cx="86.8" cy="348.4" r="1.65" fill="#000"/>
<circle cx="87.4" cy="348.7" r="1.65" fill="#000"/>
<circle cx="88.1" cy="351.4" r="1.65" fill="#000"/>
<circle cx="89.4" cy="354.8" r="1.65" fill="#000"/>
<circle cx="92.8" cy="355.1" r="1.65" fill="#000"/>
<circle cx="94.0" cy="355.2" r="1.65" fill="#000"/>
<circle cx="94.1" cy="356.8" r="1.65" fill="#000"/>
<circle cx="92.8" cy="358.6" r="1.65" fill="#000"/>
<circle cx="90.5" cy="359.6" r="1.65" fill="#000"/>
<circle cx="88.6" cy="360.3" r="1.65" fill="#000"/>
<circle cx="87.8" cy="361.3" r="1.65" fill="#000"/>
<circle cx="85.2" cy="362.7" r="1.65" fill="#000"/>
<circle cx="83.0" cy="366.0" r="1.65" fill="#000"/>
<circle cx="84.7" cy="368.0" r="1.65" fill="#000"/>
<circle cx="83.3" cy="369.0" r="1.65" fill="#000"/>
<circle cx="81.2" cy="372.3" r="1.65" fill="#000"/>
<circle cx="81.9" cy="374.5" r="1.65" fill="#000"/>
<circle cx="82.5" cy="376.6" r="1.65" fill="#000"/>
<circle cx="82.8" cy="377.8" r="1.65" fill="#000"/>
<circle cx="80.8" cy="376.7" r="1.65" fill="#000"/>
<circle cx="77.5" cy="378.8" r="1.65" fill="#000"/>
<circle cx="77.5" cy="382.3" r="1.65" fill="#000"/>
<circle cx="75.1" cy="384.0" r="1.65" fill="#000"/>
<circle cx="75.7" cy="388.3" r="1.65" fill="#000"/>
<circle cx="73.9" cy="391.3" r="1.65" fill="#000"/>
<circle cx="71.9" cy="393.0" r="1.65" fill="#000"/>
<circle cx="69.9" cy="394.7" r="1.65" fill="#000"/>
<circle cx="66.4" cy="396.7" r="1.65" fill="#000"/>
<circle cx="66.6" cy="399.2" r="1.65" fill="#000"/>
<circle cx="66.9" cy="401.7" r="1.65" fill="#000"/>
<circle cx="67.1" cy="404.2" r="1.65" fill="#000"/>
<circle cx="64.2" cy="406.9" r="1.65" fill="#000"/>
<circle cx="63.8" cy="409.5" r="1.65" fill="#000"/>
<circle cx="63.4" cy="412.2" r="1.65" fill="#000"/>
<circle cx="62.1" cy="414.1" r="1.65" fill="#000"/>
<circle cx="60.9" cy="416.0" r="1.65" fill="#000"/>
<circle cx="57.4" cy="418.0" r="1.65" fill="#000"/>
<circle cx="53.9" cy="420.2" r="1.65" fill="#000"/>
<circle cx="50.3" cy="422.2" r="1.65" fill="#000"/>
<circle cx="48.0" cy="420.9" r="1.65" fill="#000"/>
<circle cx="48.7" cy="418.9" r="1.65" fill="#000"/>
<circle cx="49.5" cy="416.8" r="1.65" fill="#000"/>
<circle cx="49.9" cy="413.7" r="1.65" fill="#000"/>
<circle cx="53.9" cy="412.6" r="1.65" fill="#000"/>
<circle cx="56.7" cy="409.5" r="1.65" fill="#000"/>
<circle cx="56.4" cy="407.3" r="1.65" fill="#000"/>
<circle cx="56.1" cy="405.1" r="1.65" fill="#000"/>
<circle cx="55.4" cy="401.7" r="1.65" fill="#000"/>
<circle cx="55.7" cy="399.0" r="1.65" fill="#000"/>
<circle cx="56.1" cy="396.2" r="1.65" fill="#000"/>
<circle cx="56.4" cy="393.2" r="1.65" fill="#000"/>
<circle cx="56.8" cy="390.2" r="1.65" fill="#000"/>
<circle cx="57.6" cy="385.9" r="1.65" fill="#000"/>
<circle cx="57.6" cy="383.0" r="1.65" fill="#000"/>
<circle cx="57.6" cy="380.0" r="1.65" fill="#000"/>
<circle cx="58.9" cy="377.6" r="1.65" fill="#000"/>
<circle cx="59.9" cy="374.2" r="1.65" fill="#000"/>
<circle cx="61.2" cy="372.4" r="1.65" fill="#000"/>
<circle cx="62.6" cy="370.7" r="1.65" fill="#000"/>
<circle cx="60.4" cy="369.7" r="1.65" fill="#000"/>
<circle cx="58.3" cy="368.7" r="1.65" fill="#000"/>
<circle cx="57.2" cy="367.7" r="1.65" fill="#000"/>
<circle cx="58.9" cy="366.1" r="1.65" fill="#000"/>
<circle cx="59.7" cy="362.3" r="1.65" fill="#000"/>
<circle cx="60.7" cy="358.8" r="1.65" fill="#000"/>
<circle cx="62.5" cy="355.3" r="1.65" fill="#000"/>
<circle cx="77.2" cy="343.6" r="1.65" fill="#000"/>
<circle cx="84.6" cy="341.2" r="1.65" fill="#000"/>
<circle cx="87.7" cy="341.2" r="1.65" fill="#000"/>
<circle cx="90.5" cy="341.2" r="1.65" fill="#000"/>
<circle cx="83.1" cy="343.1" r="1.65" fill="#000"/>
<circle cx="76.8" cy="343.8" r="1.65" fill="#000"/>
<circle cx="93.8" cy="346.4" r="1.65" fill="#000"/>
<circle cx="98.4" cy="346.6" r="1.65" fill="#000"/>
<circle cx="104.8" cy="347.1" r="1.65" fill="#000"/>
<circle cx="95.6" cy="349.9" r="1.65" fill="#000"/>
<circle cx="100.4" cy="352.3" r="1.65" fill="#000"/>
<circle cx="101.3" cy="352.8" r="1.65" fill="#000"/>
<circle cx="100.6" cy="355.8" r="1.65" fill="#000"/>
<circle cx="99.5" cy="358.0" r="1.65" fill="#000"/>
<circle cx="96.5" cy="361.7" r="1.65" fill="#000"/>
<circle cx="119.4" cy="341.4" r="1.65" fill="#000"/>
<circle cx="116.9" cy="345.1" r="1.65" fill="#000"/>
<circle cx="105.1" cy="347.1" r="1.65" fill="#000"/>
<circle cx="98.3" cy="346.1" r="1.65" fill="#000"/>
<circle cx="94.0" cy="346.1" r="1.65" fill="#000"/>
<circle cx="95.8" cy="349.9" r="1.65" fill="#000"/>
<circle cx="100.2" cy="352.3" r="1.65" fill="#000"/>
<circle cx="100.8" cy="355.4" r="1.65" fill="#000"/>
<circle cx="99.6" cy="357.9" r="1.65" fill="#000"/>
<circle cx="96.5" cy="361.6" r="1.65" fill="#000"/>
<circle cx="93.3" cy="356.7" r="1.65" fill="#000"/>
<circle cx="93.6" cy="358.4" r="1.65" fill="#000"/>
<circle cx="87.8" cy="375.7" r="1.65" fill="#000"/>
<circle cx="85.3" cy="380.6" r="1.65" fill="#000"/>
<circle cx="83.4" cy="388.3" r="1.65" fill="#000"/>
<circle cx="90.2" cy="390.4" r="1.65" fill="#000"/>
<circle cx="97.1" cy="393.9" r="1.65" fill="#000"/>
<circle cx="77.2" cy="389.6" r="1.65" fill="#000"/>
<circle cx="75.4" cy="398.2" r="1.65" fill="#000"/>
<circle cx="72.9" cy="400.7" r="1.65" fill="#000"/>
<circle cx="154.2" cy="326.5" r="1.65" fill="#000"/>
<circle cx="149.2" cy="330.1" r="1.65" fill="#000"/>
<circle cx="141.0" cy="332.4" r="1.65" fill="#000"/>
<circle cx="134.6" cy="338.1" r="1.65" fill="#000"/>
<circle cx="119.9" cy="341.3" r="1.65" fill="#000"/>
<circle cx="116.8" cy="345.1" r="1.65" fill="#000"/>
<circle cx="98.6" cy="346.6" r="1.65" fill="#000"/>
<circle cx="95.5" cy="349.7" r="1.65" fill="#000"/>
<circle cx="100.4" cy="352.2" r="1.65" fill="#000"/>
<circle cx="100.4" cy="355.0" r="1.65" fill="#000"/>
<circle cx="96.7" cy="361.5" r="1.65" fill="#000"/>
<circle cx="83.8" cy="388.3" r="1.65" fill="#000"/>
<circle cx="89.6" cy="390.5" r="1.65" fill="#000"/>
<circle cx="78.0" cy="388.6" r="1.65" fill="#000"/>
<circle cx="75.4" cy="398.5" r="1.65" fill="#000"/>
<circle cx="72.8" cy="400.7" r="1.65" fill="#000"/>
<circle cx="71.4" cy="418.2" r="1.65" fill="#000"/>
<circle cx="64.8" cy="419.3" r="1.65" fill="#000"/>
<circle cx="66.3" cy="423.0" r="1.65" fill="#000"/>
<circle cx="64.1" cy="412.4" r="1.65" fill="#000"/>
<circle cx="51.0" cy="397.8" r="1.65" fill="#000"/>
<circle cx="82.3" cy="377.3" r="1.65" fill="#000"/>
<circle cx="75.2" cy="371.6" r="0.8" fill="#fff"/>
<circle cx="75.2" cy="376" r="0.8" fill="#fff"/>
<circle cx="79.8" cy="371.8" r="0.8" fill="#fff"/>
<circle cx="74.4" cy="382" r="0.8" fill="#fff"/>
<line x1="68.6" y1="393.4" x2="77.6" y2="387.4" stroke="#fff" stroke-width="1.3"/>
<circle cx="77.9" cy="389.3" r="1.65" fill="#000"/>
<circle cx="75.8" cy="391.0" r="1.65" fill="#000"/>
<circle cx="73.6" cy="392.9" r="1.65" fill="#000"/>
<circle cx="71.4" cy="394.9" r="1.65" fill="#000"/>
<circle cx="69.4" cy="396.4" r="1.65" fill="#000"/>
<circle cx="72.6" cy="395.6" r="1.65" fill="#000"/>
<line x1="47.4" y1="399.2" x2="112.8" y2="319.7" stroke="#3366FF" stroke-width="1.85" stroke-linecap="butt"/>
<circle cx="220.2" cy="413.2" r="1.65" fill="#000"/>
<circle cx="231.2" cy="390.3" r="1.65" fill="#000"/>
<circle cx="237.1" cy="387.3" r="1.65" fill="#000"/>
<circle cx="240.3" cy="389.1" r="1.65" fill="#000"/>
<line x1="220.0" y1="410.0" x2="239.9" y2="385.1" stroke="#3366FF" stroke-width="1.85" stroke-linecap="butt"/>
<circle cx="441.5" cy="352.4" r="1.65" fill="#000"/>
<circle cx="425.3" cy="359.1" r="1.65" fill="#000"/>
<circle cx="417.8" cy="366.0" r="1.65" fill="#000"/>
<circle cx="402.8" cy="369.4" r="1.65" fill="#000"/>
<circle cx="401.7" cy="378.2" r="1.65" fill="#000"/>
<circle cx="402.8" cy="379.6" r="1.65" fill="#000"/>
<circle cx="402.7" cy="381.7" r="1.65" fill="#000"/>
<circle cx="407.1" cy="379.8" r="1.65" fill="#000"/>
<circle cx="402.8" cy="387.8" r="1.65" fill="#000"/>
<circle cx="410.5" cy="385.9" r="1.65" fill="#000"/>
<circle cx="401.3" cy="392.2" r="1.65" fill="#000"/>
<circle cx="401.5" cy="396.2" r="1.65" fill="#000"/>
<circle cx="408.4" cy="398.1" r="1.65" fill="#000"/>
<line x1="401.5" y1="386.1" x2="440.8" y2="350.7" stroke="#3366FF" stroke-width="1.85" stroke-linecap="butt"/>
<polygon points="583.0,360.4 583.6,359.3 586.0,358.2 589.5,358.4 591.9,357.6 595.5,356.0 598.0,355.0 601.1,354.1 601.1,353.8 598.5,357.7 600.2,360.6 601.2,361.2 600.2,360.8 597.0,361.7 596.1,364.5 595.7,366.6 594.8,366.0 591.2,364.9 588.2,366.0 585.5,367.5 585.0,371.2 581.5,373.0 580.4,375.3 578.5,375.2 577.5,375.1 580.3,373.4 581.9,370.2 582.9,368.1 584.1,365.4 583.0,362.8 582.6,361.4" fill="#000"/>
<circle cx="583.0" cy="360.4" r="1.65" fill="#000"/>
<circle cx="583.6" cy="359.3" r="1.65" fill="#000"/>
<circle cx="586.0" cy="358.2" r="1.65" fill="#000"/>
<circle cx="589.5" cy="358.4" r="1.65" fill="#000"/>
<circle cx="591.9" cy="357.6" r="1.65" fill="#000"/>
<circle cx="595.5" cy="356.0" r="1.65" fill="#000"/>
<circle cx="598.0" cy="355.0" r="1.65" fill="#000"/>
<circle cx="601.1" cy="354.1" r="1.65" fill="#000"/>
<circle cx="601.1" cy="353.8" r="1.65" fill="#000"/>
<circle cx="599.8" cy="355.8" r="1.65" fill="#000"/>
<circle cx="598.5" cy="357.7" r="1.65" fill="#000"/>
<circle cx="600.2" cy="360.6" r="1.65" fill="#000"/>
<circle cx="601.2" cy="361.2" r="1.65" fill="#000"/>
<circle cx="600.2" cy="360.8" r="1.65" fill="#000"/>
<circle cx="597.0" cy="361.7" r="1.65" fill="#000"/>
<circle cx="596.1" cy="364.5" r="1.65" fill="#000"/>
<circle cx="595.7" cy="366.6" r="1.65" fill="#000"/>
<circle cx="594.8" cy="366.0" r="1.65" fill="#000"/>
<circle cx="591.2" cy="364.9" r="1.65" fill="#000"/>
<circle cx="588.2" cy="366.0" r="1.65" fill="#000"/>
<circle cx="585.5" cy="367.5" r="1.65" fill="#000"/>
<circle cx="585.0" cy="371.2" r="1.65" fill="#000"/>
<circle cx="581.5" cy="373.0" r="1.65" fill="#000"/>
<circle cx="580.4" cy="375.3" r="1.65" fill="#000"/>
<circle cx="578.5" cy="375.2" r="1.65" fill="#000"/>
<circle cx="577.5" cy="375.1" r="1.65" fill="#000"/>
<circle cx="580.3" cy="373.4" r="1.65" fill="#000"/>
<circle cx="581.9" cy="370.2" r="1.65" fill="#000"/>
<circle cx="582.9" cy="368.1" r="1.65" fill="#000"/>
<circle cx="584.1" cy="365.4" r="1.65" fill="#000"/>
<circle cx="583.0" cy="362.8" r="1.65" fill="#000"/>
<circle cx="582.6" cy="361.4" r="1.65" fill="#000"/>
<polygon points="580.0,373.7 582.0,371.9 585.1,371.2 585.1,374.7 582.2,378.5 580.9,382.3 582.5,386.4 585.5,386.6 582.6,387.2 580.7,389.1 575.2,390.5 574.3,394.1 573.8,396.5 570.5,397.3 568.4,399.7 568.4,399.0 569.5,397.0 570.1,393.4 569.1,390.6 571.1,387.4 571.4,385.2 573.5,384.0 576.3,381.1 573.4,378.8 573.1,378.8 574.5,378.5 577.3,376.7" fill="#000"/>
<circle cx="580.0" cy="373.7" r="1.65" fill="#000"/>
<circle cx="582.0" cy="371.9" r="1.65" fill="#000"/>
<circle cx="585.1" cy="371.2" r="1.65" fill="#000"/>
<circle cx="585.1" cy="374.7" r="1.65" fill="#000"/>
<circle cx="583.6" cy="376.6" r="1.65" fill="#000"/>
<circle cx="582.2" cy="378.5" r="1.65" fill="#000"/>
<circle cx="580.9" cy="382.3" r="1.65" fill="#000"/>
<circle cx="582.5" cy="386.4" r="1.65" fill="#000"/>
<circle cx="585.5" cy="386.6" r="1.65" fill="#000"/>
<circle cx="582.6" cy="387.2" r="1.65" fill="#000"/>
<circle cx="580.7" cy="389.1" r="1.65" fill="#000"/>
<circle cx="578.0" cy="389.8" r="1.65" fill="#000"/>
<circle cx="575.2" cy="390.5" r="1.65" fill="#000"/>
<circle cx="574.3" cy="394.1" r="1.65" fill="#000"/>
<circle cx="573.8" cy="396.5" r="1.65" fill="#000"/>
<circle cx="570.5" cy="397.3" r="1.65" fill="#000"/>
<circle cx="568.4" cy="399.7" r="1.65" fill="#000"/>
<circle cx="568.4" cy="399.0" r="1.65" fill="#000"/>
<circle cx="569.5" cy="397.0" r="1.65" fill="#000"/>
<circle cx="570.1" cy="393.4" r="1.65" fill="#000"/>
<circle cx="569.1" cy="390.6" r="1.65" fill="#000"/>
<circle cx="571.1" cy="387.4" r="1.65" fill="#000"/>
<circle cx="571.4" cy="385.2" r="1.65" fill="#000"/>
<circle cx="573.5" cy="384.0" r="1.65" fill="#000"/>
<circle cx="576.3" cy="381.1" r="1.65" fill="#000"/>
<circle cx="573.4" cy="378.8" r="1.65" fill="#000"/>
<circle cx="573.1" cy="378.8" r="1.65" fill="#000"/>
<circle cx="574.5" cy="378.5" r="1.65" fill="#000"/>
<circle cx="577.3" cy="376.7" r="1.65" fill="#000"/>
<circle cx="654.0" cy="332.4" r="1.65" fill="#000"/>
<circle cx="629.6" cy="345.0" r="1.65" fill="#000"/>
<circle cx="612.6" cy="358.0" r="1.65" fill="#000"/>
<circle cx="607.0" cy="355.0" r="1.65" fill="#000"/>
<circle cx="606.7" cy="355.4" r="1.65" fill="#000"/>
<circle cx="605.6" cy="355.9" r="1.65" fill="#000"/>
<circle cx="612.5" cy="358.0" r="1.65" fill="#000"/>
<circle cx="601.5" cy="360.8" r="1.65" fill="#000"/>
<circle cx="590.3" cy="376.4" r="1.65" fill="#000"/>
<circle cx="586.2" cy="375.1" r="1.65" fill="#000"/>
<circle cx="590.4" cy="376.4" r="1.65" fill="#000"/>
<circle cx="584.5" cy="392.5" r="1.65" fill="#000"/>
<circle cx="580.4" cy="393.0" r="1.65" fill="#000"/>
<circle cx="581.9" cy="394.5" r="1.65" fill="#000"/>
<circle cx="586.5" cy="386.4" r="1.65" fill="#000"/>
<circle cx="572.0" cy="404.0" r="1.65" fill="#000"/>
<line x1="568.0" y1="391.4" x2="637.4" y2="319.0" stroke="#3366FF" stroke-width="1.85" stroke-linecap="butt"/>
<polygon points="69.8,525.9 72.6,523.9 74.0,519.6 77.4,519.2 82.6,521.4 85.4,517.3 88.3,515.9 88.4,517.9 84.9,520.5 81.7,525.1 78.5,528.5 73.9,528.5 71.2,532.2 70.8,531.4 70.3,528.2" fill="#000"/>
<circle cx="69.8" cy="525.9" r="1.65" fill="#000"/>
<circle cx="72.6" cy="523.9" r="1.65" fill="#000"/>
<circle cx="73.3" cy="521.7" r="1.65" fill="#000"/>
<circle cx="74.0" cy="519.6" r="1.65" fill="#000"/>
<circle cx="77.4" cy="519.2" r="1.65" fill="#000"/>
<circle cx="80.0" cy="520.3" r="1.65" fill="#000"/>
<circle cx="82.6" cy="521.4" r="1.65" fill="#000"/>
<circle cx="84.0" cy="519.4" r="1.65" fill="#000"/>
<circle cx="85.4" cy="517.3" r="1.65" fill="#000"/>
<circle cx="88.3" cy="515.9" r="1.65" fill="#000"/>
<circle cx="88.4" cy="517.9" r="1.65" fill="#000"/>
<circle cx="84.9" cy="520.5" r="1.65" fill="#000"/>
<circle cx="83.3" cy="522.8" r="1.65" fill="#000"/>
<circle cx="81.7" cy="525.1" r="1.65" fill="#000"/>
<circle cx="80.1" cy="526.8" r="1.65" fill="#000"/>
<circle cx="78.5" cy="528.5" r="1.65" fill="#000"/>
<circle cx="76.2" cy="528.5" r="1.65" fill="#000"/>
<circle cx="73.9" cy="528.5" r="1.65" fill="#000"/>
<circle cx="72.5" cy="530.4" r="1.65" fill="#000"/>
<circle cx="71.2" cy="532.2" r="1.65" fill="#000"/>
<circle cx="70.8" cy="531.4" r="1.65" fill="#000"/>
<circle cx="70.3" cy="528.2" r="1.65" fill="#000"/>
<polygon points="57.6,541.8 59.3,541.1 63.3,540.1 64.7,539.2 65.7,540.2 67.1,542.9 68.4,545.5 68.0,548.8 66.0,551.2 65.0,555.7 62.5,557.9 61.9,562.8 61.1,564.8 57.8,563.7 55.6,566.3 54.9,565.0 54.5,563.7 56.5,562.0 55.6,558.5 55.9,556.7 57.8,554.8 59.6,551.0 61.2,546.2 59.4,542.9" fill="#000"/>
<circle cx="57.6" cy="541.8" r="1.65" fill="#000"/>
<circle cx="59.3" cy="541.1" r="1.65" fill="#000"/>
<circle cx="63.3" cy="540.1" r="1.65" fill="#000"/>
<circle cx="64.7" cy="539.2" r="1.65" fill="#000"/>
<circle cx="65.7" cy="540.2" r="1.65" fill="#000"/>
<circle cx="67.1" cy="542.9" r="1.65" fill="#000"/>
<circle cx="68.4" cy="545.5" r="1.65" fill="#000"/>
<circle cx="68.0" cy="548.8" r="1.65" fill="#000"/>
<circle cx="66.0" cy="551.2" r="1.65" fill="#000"/>
<circle cx="65.5" cy="553.5" r="1.65" fill="#000"/>
<circle cx="65.0" cy="555.7" r="1.65" fill="#000"/>
<circle cx="62.5" cy="557.9" r="1.65" fill="#000"/>
<circle cx="62.2" cy="560.3" r="1.65" fill="#000"/>
<circle cx="61.9" cy="562.8" r="1.65" fill="#000"/>
<circle cx="61.1" cy="564.8" r="1.65" fill="#000"/>
<circle cx="57.8" cy="563.7" r="1.65" fill="#000"/>
<circle cx="55.6" cy="566.3" r="1.65" fill="#000"/>
<circle cx="54.9" cy="565.0" r="1.65" fill="#000"/>
<circle cx="54.5" cy="563.7" r="1.65" fill="#000"/>
<circle cx="56.5" cy="562.0" r="1.65" fill="#000"/>
<circle cx="55.6" cy="558.5" r="1.65" fill="#000"/>
<circle cx="55.9" cy="556.7" r="1.65" fill="#000"/>
<circle cx="57.8" cy="554.8" r="1.65" fill="#000"/>
<circle cx="59.6" cy="551.0" r="1.65" fill="#000"/>
<circle cx="60.4" cy="548.6" r="1.65" fill="#000"/>
<circle cx="61.2" cy="546.2" r="1.65" fill="#000"/>
<circle cx="59.4" cy="542.9" r="1.65" fill="#000"/>
<circle cx="67.1" cy="535.4" r="1.65" fill="#000"/>
<circle cx="73.2" cy="542.8" r="1.65" fill="#000"/>
<circle cx="73.0" cy="547.3" r="1.65" fill="#000"/>
<circle cx="77.3" cy="536.4" r="1.65" fill="#000"/>
<circle cx="65.3" cy="556.0" r="1.65" fill="#000"/>
<circle cx="70.4" cy="532.6" r="1.65" fill="#000"/>
<circle cx="154.4" cy="489.4" r="1.65" fill="#000"/>
<circle cx="134.4" cy="501.0" r="1.65" fill="#000"/>
<circle cx="120.0" cy="504.4" r="1.65" fill="#000"/>
<circle cx="105.0" cy="510.2" r="1.65" fill="#000"/>
<circle cx="98.6" cy="509.6" r="1.65" fill="#000"/>
<circle cx="88.0" cy="504.4" r="1.65" fill="#000"/>
<circle cx="89.0" cy="511.9" r="1.65" fill="#000"/>
<circle cx="92.9" cy="521.1" r="1.65" fill="#000"/>
<circle cx="94.4" cy="521.5" r="1.65" fill="#000"/>
<circle cx="84.8" cy="530.8" r="1.65" fill="#000"/>
<circle cx="77.2" cy="536.6" r="1.65" fill="#000"/>
<circle cx="73.4" cy="542.9" r="1.65" fill="#000"/>
<circle cx="72.6" cy="547.5" r="1.65" fill="#000"/>
<circle cx="66.8" cy="535.3" r="1.65" fill="#000"/>
<circle cx="55.0" cy="567.0" r="1.65" fill="#000"/>
<circle cx="67.0" cy="535.4" r="1.65" fill="#000"/>
<circle cx="73.0" cy="543.0" r="1.65" fill="#000"/>
<line x1="54.0" y1="555.6" x2="124.4" y2="482.4" stroke="#3366FF" stroke-width="1.85" stroke-linecap="butt"/>
<polygon points="233.7,531.0 235.1,531.0 238.2,528.0 241.3,525.9 244.6,523.1 245.4,520.7 246.7,520.6 249.9,520.5 250.9,519.6 251.3,520.3 252.3,522.9 256.6,522.1 257.4,522.5 258.1,523.7 256.5,525.4 253.3,527.5 250.9,529.0 247.4,530.5 243.3,532.4 241.9,536.3 242.0,538.9 241.6,540.5 240.3,542.3 238.1,545.9 236.6,548.5 235.2,551.4 232.7,553.5 229.6,554.0 228.6,553.3 229.2,550.9 229.1,547.1 228.0,546.2 229.4,543.3 231.3,540.9 233.5,537.7 233.8,536.5 237.3,534.8" fill="#000"/>
<circle cx="233.7" cy="531.0" r="1.65" fill="#000"/>
<circle cx="235.1" cy="531.0" r="1.65" fill="#000"/>
<circle cx="236.7" cy="529.5" r="1.65" fill="#000"/>
<circle cx="238.2" cy="528.0" r="1.65" fill="#000"/>
<circle cx="241.3" cy="525.9" r="1.65" fill="#000"/>
<circle cx="244.6" cy="523.1" r="1.65" fill="#000"/>
<circle cx="245.4" cy="520.7" r="1.65" fill="#000"/>
<circle cx="246.7" cy="520.6" r="1.65" fill="#000"/>
<circle cx="249.9" cy="520.5" r="1.65" fill="#000"/>
<circle cx="250.9" cy="519.6" r="1.65" fill="#000"/>
<circle cx="251.3" cy="520.3" r="1.65" fill="#000"/>
<circle cx="252.3" cy="522.9" r="1.65" fill="#000"/>
<circle cx="256.6" cy="522.1" r="1.65" fill="#000"/>
<circle cx="257.4" cy="522.5" r="1.65" fill="#000"/>
<circle cx="258.1" cy="523.7" r="1.65" fill="#000"/>
<circle cx="256.5" cy="525.4" r="1.65" fill="#000"/>
<circle cx="253.3" cy="527.5" r="1.65" fill="#000"/>
<circle cx="250.9" cy="529.0" r="1.65" fill="#000"/>
<circle cx="247.4" cy="530.5" r="1.65" fill="#000"/>
<circle cx="245.4" cy="531.5" r="1.65" fill="#000"/>
<circle cx="243.3" cy="532.4" r="1.65" fill="#000"/>
<circle cx="241.9" cy="536.3" r="1.65" fill="#000"/>
<circle cx="242.0" cy="538.9" r="1.65" fill="#000"/>
<circle cx="241.6" cy="540.5" r="1.65" fill="#000"/>
<circle cx="240.3" cy="542.3" r="1.65" fill="#000"/>
<circle cx="238.1" cy="545.9" r="1.65" fill="#000"/>
<circle cx="236.6" cy="548.5" r="1.65" fill="#000"/>
<circle cx="235.2" cy="551.4" r="1.65" fill="#000"/>
<circle cx="232.7" cy="553.5" r="1.65" fill="#000"/>
<circle cx="229.6" cy="554.0" r="1.65" fill="#000"/>
<circle cx="228.6" cy="553.3" r="1.65" fill="#000"/>
<circle cx="229.2" cy="550.9" r="1.65" fill="#000"/>
<circle cx="229.1" cy="547.1" r="1.65" fill="#000"/>
<circle cx="228.0" cy="546.2" r="1.65" fill="#000"/>
<circle cx="229.4" cy="543.3" r="1.65" fill="#000"/>
<circle cx="231.3" cy="540.9" r="1.65" fill="#000"/>
<circle cx="233.5" cy="537.7" r="1.65" fill="#000"/>
<circle cx="233.8" cy="536.5" r="1.65" fill="#000"/>
<circle cx="237.3" cy="534.8" r="1.65" fill="#000"/>
<circle cx="235.5" cy="532.9" r="1.65" fill="#000"/>
<circle cx="243.9" cy="516.5" r="1.65" fill="#000"/>
<circle cx="243.2" cy="511.8" r="1.65" fill="#000"/>
<circle cx="235.8" cy="523.2" r="1.65" fill="#000"/>
<circle cx="266.5" cy="513.3" r="1.65" fill="#000"/>
<circle cx="271.3" cy="515.1" r="1.65" fill="#000"/>
<circle cx="271.3" cy="518.4" r="1.65" fill="#000"/>
<circle cx="267.6" cy="524.6" r="1.65" fill="#000"/>
<circle cx="253.6" cy="539.8" r="1.65" fill="#000"/>
<circle cx="246.0" cy="542.8" r="1.65" fill="#000"/>
<circle cx="248.0" cy="545.1" r="1.65" fill="#000"/>
<circle cx="228.9" cy="542.6" r="1.65" fill="#000"/>
<circle cx="234.1" cy="558.4" r="1.65" fill="#000"/>
<circle cx="222.0" cy="561.0" r="1.65" fill="#000"/>
<circle cx="245.8" cy="542.9" r="1.65" fill="#000"/>
<circle cx="248.4" cy="545.2" r="1.65" fill="#000"/>
<circle cx="239.4" cy="553.3" r="1.65" fill="#000"/>
<circle cx="240.7" cy="550.5" r="1.65" fill="#000"/>
<circle cx="253.7" cy="539.8" r="1.65" fill="#000"/>
<circle cx="232.3" cy="555.9" r="1.65" fill="#000"/>
<circle cx="235.0" cy="575.6" r="1.65" fill="#000"/>
<circle cx="259.0" cy="517.4" r="1.65" fill="#000"/>
<line x1="221.6" y1="555.0" x2="271.6" y2="505.4" stroke="#3366FF" stroke-width="1.85" stroke-linecap="butt"/>
<circle cx="411.3" cy="519.1" r="1.65" fill="#000"/>
<circle cx="429.9" cy="519.1" r="1.65" fill="#000"/>
<circle cx="419.4" cy="522.3" r="1.65" fill="#000"/>
<circle cx="419.7" cy="524.0" r="1.65" fill="#000"/>
<circle cx="423.3" cy="525.8" r="1.65" fill="#000"/>
<circle cx="415.9" cy="526.5" r="1.65" fill="#000"/>
<circle cx="408.2" cy="529.0" r="1.65" fill="#000"/>
<circle cx="411.0" cy="529.0" r="1.65" fill="#000"/>
<circle cx="414.5" cy="530.4" r="1.65" fill="#000"/>
<circle cx="418.7" cy="530.7" r="1.65" fill="#000"/>
<circle cx="420.4" cy="533.2" r="1.65" fill="#000"/>
<circle cx="408.9" cy="533.9" r="1.65" fill="#000"/>
<circle cx="413.8" cy="535.3" r="1.65" fill="#000"/>
<circle cx="402.5" cy="538.1" r="1.65" fill="#000"/>
<circle cx="409.9" cy="538.1" r="1.65" fill="#000"/>
<circle cx="405.3" cy="541.6" r="1.65" fill="#000"/>
<circle cx="403.9" cy="543.0" r="1.65" fill="#000"/>
<circle cx="404.6" cy="544.8" r="1.65" fill="#000"/>
<circle cx="403.2" cy="546.5" r="1.65" fill="#000"/>
<circle cx="413.1" cy="545.8" r="1.65" fill="#000"/>
<circle cx="410.3" cy="550.0" r="1.65" fill="#000"/>
<circle cx="398.3" cy="551.1" r="1.65" fill="#000"/>
<circle cx="400.4" cy="550.7" r="1.65" fill="#000"/>
<circle cx="406.0" cy="550.4" r="1.65" fill="#000"/>
<circle cx="405.3" cy="552.1" r="1.65" fill="#000"/>
<circle cx="407.1" cy="554.2" r="1.65" fill="#000"/>
<circle cx="399.0" cy="553.5" r="1.65" fill="#000"/>
<circle cx="401.8" cy="554.9" r="1.65" fill="#000"/>
<circle cx="403.9" cy="556.3" r="1.65" fill="#000"/>
<circle cx="401.1" cy="558.5" r="1.65" fill="#000"/>
<circle cx="396.9" cy="559.9" r="1.65" fill="#000"/>
<circle cx="405.3" cy="559.2" r="1.65" fill="#000"/>
<circle cx="403.2" cy="552.8" r="1.65" fill="#000"/>
<circle cx="400.5" cy="552.5" r="1.65" fill="#000"/>
<circle cx="402.0" cy="548.0" r="1.65" fill="#000"/>
<circle cx="406.0" cy="546.0" r="1.65" fill="#000"/>
<circle cx="400.0" cy="552.0" r="1.65" fill="#000"/>
<circle cx="402.0" cy="551.0" r="1.65" fill="#000"/>
<circle cx="404.0" cy="552.0" r="1.65" fill="#000"/>
<circle cx="406.0" cy="553.0" r="1.65" fill="#000"/>
<circle cx="401.0" cy="555.0" r="1.65" fill="#000"/>
<circle cx="403.0" cy="556.5" r="1.65" fill="#000"/>
<circle cx="405.0" cy="555.0" r="1.65" fill="#000"/>
<circle cx="407.0" cy="556.0" r="1.65" fill="#000"/>
<circle cx="399.5" cy="556.5" r="1.65" fill="#000"/>
<circle cx="402.0" cy="558.0" r="1.65" fill="#000"/>
<circle cx="404.0" cy="558.5" r="1.65" fill="#000"/>
<circle cx="406.5" cy="557.5" r="1.65" fill="#000"/>
<line x1="396.9" y1="558.5" x2="428.9" y2="513.9" stroke="#3366FF" stroke-width="1.85" stroke-linecap="butt"/>
<circle cx="596.3" cy="506.4" r="1.65" fill="#000"/>
<circle cx="595.8" cy="510.4" r="1.65" fill="#000"/>
<circle cx="602.2" cy="511.3" r="1.65" fill="#000"/>
<circle cx="583.3" cy="515.6" r="1.65" fill="#000"/>
<circle cx="581.1" cy="517.9" r="1.65" fill="#000"/>
<circle cx="581.5" cy="519.6" r="1.65" fill="#000"/>
<circle cx="596.1" cy="515.4" r="1.65" fill="#000"/>
<circle cx="600.4" cy="516.9" r="1.65" fill="#000"/>
<circle cx="590.1" cy="519.3" r="1.65" fill="#000"/>
<circle cx="584.0" cy="522.5" r="1.65" fill="#000"/>
<circle cx="586.9" cy="522.9" r="1.65" fill="#000"/>
<circle cx="588.6" cy="524.6" r="1.65" fill="#000"/>
<circle cx="593.3" cy="523.6" r="1.65" fill="#000"/>
<circle cx="590.8" cy="527.5" r="1.65" fill="#000"/>
<circle cx="600.8" cy="522.1" r="1.65" fill="#000"/>
<circle cx="580.1" cy="533.2" r="1.65" fill="#000"/>
<circle cx="581.1" cy="539.3" r="1.65" fill="#000"/>
<circle cx="569.7" cy="547.1" r="1.65" fill="#000"/>
<circle cx="575.4" cy="548.6" r="1.65" fill="#000"/>
<circle cx="578.6" cy="549.1" r="1.65" fill="#000"/>
<circle cx="582.2" cy="552.9" r="1.65" fill="#000"/>
<line x1="569.7" y1="545.4" x2="601.5" y2="510.4" stroke="#3366FF" stroke-width="1.85" stroke-linecap="butt"/>
<circle cx="90.8" cy="667.3" r="1.65" fill="#000"/>
<circle cx="81.0" cy="671.5" r="1.65" fill="#000"/>
<circle cx="82.6" cy="673.2" r="1.65" fill="#000"/>
<circle cx="72.1" cy="673.8" r="1.65" fill="#000"/>
<circle cx="74.7" cy="673.5" r="1.65" fill="#000"/>
<circle cx="77.3" cy="674.2" r="1.65" fill="#000"/>
<circle cx="71.4" cy="675.8" r="1.65" fill="#000"/>
<circle cx="74.7" cy="676.1" r="1.65" fill="#000"/>
<circle cx="78.0" cy="676.1" r="1.65" fill="#000"/>
<circle cx="66.5" cy="677.1" r="1.65" fill="#000"/>
<circle cx="74.1" cy="678.4" r="1.65" fill="#000"/>
<circle cx="81.3" cy="678.4" r="1.65" fill="#000"/>
<circle cx="65.5" cy="679.7" r="1.65" fill="#000"/>
<circle cx="68.8" cy="679.4" r="1.65" fill="#000"/>
<circle cx="71.4" cy="680.4" r="1.65" fill="#000"/>
<circle cx="68.5" cy="681.7" r="1.65" fill="#000"/>
<circle cx="77.3" cy="682.4" r="1.65" fill="#000"/>
<circle cx="80.6" cy="682.4" r="1.65" fill="#000"/>
<circle cx="69.5" cy="683.7" r="1.65" fill="#000"/>
<circle cx="74.1" cy="685.0" r="1.65" fill="#000"/>
<circle cx="64.9" cy="686.3" r="1.65" fill="#000"/>
<circle cx="70.8" cy="687.0" r="1.65" fill="#000"/>
<circle cx="66.8" cy="688.3" r="1.65" fill="#000"/>
<circle cx="72.7" cy="688.9" r="1.65" fill="#000"/>
<circle cx="76.4" cy="688.6" r="1.65" fill="#000"/>
<circle cx="67.5" cy="690.3" r="1.65" fill="#000"/>
<circle cx="63.9" cy="696.2" r="1.65" fill="#000"/>
<circle cx="68.5" cy="697.5" r="1.65" fill="#000"/>
<circle cx="82.9" cy="696.2" r="1.65" fill="#000"/>
<circle cx="60.9" cy="699.5" r="1.65" fill="#000"/>
<circle cx="62.2" cy="700.8" r="1.65" fill="#000"/>
<circle cx="59.3" cy="702.7" r="1.65" fill="#000"/>
<circle cx="64.9" cy="704.0" r="1.65" fill="#000"/>
<circle cx="65.5" cy="705.7" r="1.65" fill="#000"/>
<circle cx="71.0" cy="744.0" r="1.65" fill="#000"/>
<circle cx="76.0" cy="676.0" r="1.65" fill="#000"/>
<circle cx="72.0" cy="682.0" r="1.65" fill="#000"/>
<circle cx="70.0" cy="685.0" r="1.65" fill="#000"/>
<circle cx="73.0" cy="686.0" r="1.65" fill="#000"/>
<circle cx="78.0" cy="680.0" r="1.65" fill="#000"/>
<circle cx="75.0" cy="681.0" r="1.65" fill="#000"/>
<circle cx="72.0" cy="676.0" r="1.65" fill="#000"/>
<circle cx="74.0" cy="675.0" r="1.65" fill="#000"/>
<circle cx="76.0" cy="675.0" r="1.65" fill="#000"/>
<circle cx="78.0" cy="675.5" r="1.65" fill="#000"/>
<circle cx="80.0" cy="675.0" r="1.65" fill="#000"/>
<circle cx="73.0" cy="678.0" r="1.65" fill="#000"/>
<circle cx="75.0" cy="678.0" r="1.65" fill="#000"/>
<circle cx="77.0" cy="677.5" r="1.65" fill="#000"/>
<circle cx="79.0" cy="678.0" r="1.65" fill="#000"/>
<circle cx="71.0" cy="679.0" r="1.65" fill="#000"/>
<circle cx="73.0" cy="680.0" r="1.65" fill="#000"/>
<circle cx="75.0" cy="680.0" r="1.65" fill="#000"/>
<circle cx="77.0" cy="680.0" r="1.65" fill="#000"/>
<circle cx="79.0" cy="680.5" r="1.65" fill="#000"/>
<circle cx="70.0" cy="681.5" r="1.65" fill="#000"/>
<circle cx="72.0" cy="682.0" r="1.65" fill="#000"/>
<circle cx="74.0" cy="682.0" r="1.65" fill="#000"/>
<circle cx="76.0" cy="682.0" r="1.65" fill="#000"/>
<circle cx="71.0" cy="684.0" r="1.65" fill="#000"/>
<circle cx="73.0" cy="684.5" r="1.65" fill="#000"/>
<circle cx="69.0" cy="679.5" r="1.65" fill="#000"/>
<circle cx="67.0" cy="680.0" r="1.65" fill="#000"/>
<line x1="59.6" y1="695.8" x2="90.5" y2="666.7" stroke="#3366FF" stroke-width="1.85" stroke-linecap="butt"/>
<circle cx="255.9" cy="667.6" r="1.65" fill="#000"/>
<circle cx="265.1" cy="672.0" r="1.65" fill="#000"/>
<circle cx="256.6" cy="673.5" r="1.65" fill="#000"/>
<circle cx="253.3" cy="672.2" r="1.65" fill="#000"/>
<circle cx="248.3" cy="669.9" r="1.65" fill="#000"/>
<circle cx="249.7" cy="673.2" r="1.65" fill="#000"/>
<circle cx="252.3" cy="676.1" r="1.65" fill="#000"/>
<circle cx="249.0" cy="675.8" r="1.65" fill="#000"/>
<circle cx="243.7" cy="673.5" r="1.65" fill="#000"/>
<circle cx="241.8" cy="674.8" r="1.65" fill="#000"/>
<circle cx="238.5" cy="675.5" r="1.65" fill="#000"/>
<circle cx="244.4" cy="676.1" r="1.65" fill="#000"/>
<circle cx="241.1" cy="677.8" r="1.65" fill="#000"/>
<circle cx="236.8" cy="678.1" r="1.65" fill="#000"/>
<circle cx="235.2" cy="679.4" r="1.65" fill="#000"/>
<circle cx="239.1" cy="679.4" r="1.65" fill="#000"/>
<circle cx="248.3" cy="679.4" r="1.65" fill="#000"/>
<circle cx="232.6" cy="681.4" r="1.65" fill="#000"/>
<circle cx="237.2" cy="681.1" r="1.65" fill="#000"/>
<circle cx="238.8" cy="682.0" r="1.65" fill="#000"/>
<circle cx="233.9" cy="683.0" r="1.65" fill="#000"/>
<circle cx="245.1" cy="683.7" r="1.65" fill="#000"/>
<circle cx="247.7" cy="684.0" r="1.65" fill="#000"/>
<circle cx="233.2" cy="685.3" r="1.65" fill="#000"/>
<circle cx="236.2" cy="685.7" r="1.65" fill="#000"/>
<circle cx="241.1" cy="686.6" r="1.65" fill="#000"/>
<circle cx="234.5" cy="688.9" r="1.65" fill="#000"/>
<circle cx="239.8" cy="688.9" r="1.65" fill="#000"/>
<circle cx="242.1" cy="689.9" r="1.65" fill="#000"/>
<circle cx="238.5" cy="701.7" r="1.65" fill="#000"/>
<circle cx="219.0" cy="746.0" r="1.65" fill="#000"/>
<circle cx="221.6" cy="744.4" r="1.65" fill="#000"/>
<circle cx="246.0" cy="678.0" r="1.65" fill="#000"/>
<circle cx="243.0" cy="680.0" r="1.65" fill="#000"/>
<circle cx="240.0" cy="684.0" r="1.65" fill="#000"/>
<circle cx="244.0" cy="674.0" r="1.65" fill="#000"/>
<circle cx="246.0" cy="675.0" r="1.65" fill="#000"/>
<circle cx="245.0" cy="677.0" r="1.65" fill="#000"/>
<circle cx="247.5" cy="676.0" r="1.65" fill="#000"/>
<circle cx="249.5" cy="677.5" r="1.65" fill="#000"/>
<circle cx="248.0" cy="678.5" r="1.65" fill="#000"/>
<circle cx="250.5" cy="674.5" r="1.65" fill="#000"/>
<circle cx="251.0" cy="679.0" r="1.65" fill="#000"/>
<circle cx="241.0" cy="676.0" r="1.65" fill="#000"/>
<circle cx="243.0" cy="678.5" r="1.65" fill="#000"/>
<circle cx="240.0" cy="679.5" r="1.65" fill="#000"/>
<circle cx="242.0" cy="681.0" r="1.65" fill="#000"/>
<circle cx="244.0" cy="681.5" r="1.65" fill="#000"/>
<circle cx="246.5" cy="680.5" r="1.65" fill="#000"/>
<circle cx="238.0" cy="678.0" r="1.65" fill="#000"/>
<circle cx="239.5" cy="682.5" r="1.65" fill="#000"/>
<circle cx="241.5" cy="684.0" r="1.65" fill="#000"/>
<circle cx="237.0" cy="683.5" r="1.65" fill="#000"/>
<circle cx="235.5" cy="682.0" r="1.65" fill="#000"/>
<line x1="219.2" y1="718.0" x2="264.0" y2="649.6" stroke="#3366FF" stroke-width="1.85" stroke-linecap="butt"/>
<polygon points="406.0,678.2 408.8,676.9 413.2,674.9 417.7,673.6 421.3,672.4 423.0,672.8 423.7,673.7 422.5,676.2 421.3,678.7 419.4,681.2 417.5,683.8 415.4,686.6 414.0,690.9 413.6,692.8 411.5,693.2 410.1,694.4 408.7,693.2 404.8,692.4 400.9,693.7 399.0,693.4 400.1,692.9 402.3,690.4 401.8,687.3 402.2,685.4 404.3,683.3 404.3,681.2 405.5,679.5" fill="#000"/>
<circle cx="406.0" cy="678.2" r="1.65" fill="#000"/>
<circle cx="408.8" cy="676.9" r="1.65" fill="#000"/>
<circle cx="411.0" cy="675.9" r="1.65" fill="#000"/>
<circle cx="413.2" cy="674.9" r="1.65" fill="#000"/>
<circle cx="415.5" cy="674.3" r="1.65" fill="#000"/>
<circle cx="417.7" cy="673.6" r="1.65" fill="#000"/>
<circle cx="421.3" cy="672.4" r="1.65" fill="#000"/>
<circle cx="423.0" cy="672.8" r="1.65" fill="#000"/>
<circle cx="423.7" cy="673.7" r="1.65" fill="#000"/>
<circle cx="422.5" cy="676.2" r="1.65" fill="#000"/>
<circle cx="421.3" cy="678.7" r="1.65" fill="#000"/>
<circle cx="419.4" cy="681.2" r="1.65" fill="#000"/>
<circle cx="417.5" cy="683.8" r="1.65" fill="#000"/>
<circle cx="415.4" cy="686.6" r="1.65" fill="#000"/>
<circle cx="414.7" cy="688.7" r="1.65" fill="#000"/>
<circle cx="414.0" cy="690.9" r="1.65" fill="#000"/>
<circle cx="413.6" cy="692.8" r="1.65" fill="#000"/>
<circle cx="411.5" cy="693.2" r="1.65" fill="#000"/>
<circle cx="410.1" cy="694.4" r="1.65" fill="#000"/>
<circle cx="408.7" cy="693.2" r="1.65" fill="#000"/>
<circle cx="404.8" cy="692.4" r="1.65" fill="#000"/>
<circle cx="400.9" cy="693.7" r="1.65" fill="#000"/>
<circle cx="399.0" cy="693.4" r="1.65" fill="#000"/>
<circle cx="400.1" cy="692.9" r="1.65" fill="#000"/>
<circle cx="402.3" cy="690.4" r="1.65" fill="#000"/>
<circle cx="401.8" cy="687.3" r="1.65" fill="#000"/>
<circle cx="402.2" cy="685.4" r="1.65" fill="#000"/>
<circle cx="404.3" cy="683.3" r="1.65" fill="#000"/>
<circle cx="404.3" cy="681.2" r="1.65" fill="#000"/>
<circle cx="405.5" cy="679.5" r="1.65" fill="#000"/>
<polygon points="390.3,747.0 391.4,742.4 393.2,739.0 398.0,737.8 399.6,733.7 400.1,731.6 401.3,731.9 401.4,733.6 400.3,736.7 405.0,737.9 403.2,739.7 402.9,742.7 399.9,743.5 396.9,745.3 392.7,747.5 390.3,747.2" fill="#000"/>
<circle cx="390.3" cy="747.0" r="1.65" fill="#000"/>
<circle cx="390.8" cy="744.7" r="1.65" fill="#000"/>
<circle cx="391.4" cy="742.4" r="1.65" fill="#000"/>
<circle cx="393.2" cy="739.0" r="1.65" fill="#000"/>
<circle cx="395.6" cy="738.4" r="1.65" fill="#000"/>
<circle cx="398.0" cy="737.8" r="1.65" fill="#000"/>
<circle cx="399.6" cy="733.7" r="1.65" fill="#000"/>
<circle cx="400.1" cy="731.6" r="1.65" fill="#000"/>
<circle cx="401.3" cy="731.9" r="1.65" fill="#000"/>
<circle cx="401.4" cy="733.6" r="1.65" fill="#000"/>
<circle cx="400.3" cy="736.7" r="1.65" fill="#000"/>
<circle cx="402.7" cy="737.3" r="1.65" fill="#000"/>
<circle cx="405.0" cy="737.9" r="1.65" fill="#000"/>
<circle cx="403.2" cy="739.7" r="1.65" fill="#000"/>
<circle cx="402.9" cy="742.7" r="1.65" fill="#000"/>
<circle cx="399.9" cy="743.5" r="1.65" fill="#000"/>
<circle cx="396.9" cy="745.3" r="1.65" fill="#000"/>
<circle cx="394.8" cy="746.4" r="1.65" fill="#000"/>
<circle cx="392.7" cy="747.5" r="1.65" fill="#000"/>
<circle cx="390.3" cy="747.2" r="1.65" fill="#000"/>
<circle cx="491.4" cy="656.0" r="1.65" fill="#000"/>
<circle cx="423.6" cy="682.1" r="1.65" fill="#000"/>
<circle cx="426.5" cy="684.1" r="1.65" fill="#000"/>
<circle cx="425.2" cy="686.0" r="1.65" fill="#000"/>
<circle cx="421.6" cy="687.3" r="1.65" fill="#000"/>
<circle cx="420.0" cy="691.6" r="1.65" fill="#000"/>
<circle cx="421.6" cy="691.6" r="1.65" fill="#000"/>
<circle cx="423.9" cy="694.9" r="1.65" fill="#000"/>
<circle cx="424.6" cy="698.2" r="1.65" fill="#000"/>
<circle cx="421.9" cy="700.8" r="1.65" fill="#000"/>
<circle cx="417.7" cy="699.2" r="1.65" fill="#000"/>
<circle cx="429.5" cy="701.1" r="1.65" fill="#000"/>
<circle cx="424.6" cy="704.1" r="1.65" fill="#000"/>
<circle cx="427.5" cy="706.4" r="1.65" fill="#000"/>
<circle cx="415.4" cy="693.6" r="1.65" fill="#000"/>
<circle cx="411.4" cy="700.8" r="1.65" fill="#000"/>
<circle cx="406.2" cy="702.8" r="1.65" fill="#000"/>
<circle cx="415.4" cy="702.5" r="1.65" fill="#000"/>
<circle cx="418.0" cy="705.1" r="1.65" fill="#000"/>
<circle cx="407.5" cy="706.1" r="1.65" fill="#000"/>
<circle cx="406.2" cy="702.6" r="1.65" fill="#000"/>
<circle cx="411.3" cy="700.7" r="1.65" fill="#000"/>
<circle cx="414.9" cy="702.2" r="1.65" fill="#000"/>
<circle cx="418.6" cy="705.1" r="1.65" fill="#000"/>
<circle cx="422.2" cy="700.7" r="1.65" fill="#000"/>
<circle cx="424.4" cy="704.0" r="1.65" fill="#000"/>
<circle cx="429.5" cy="701.5" r="1.65" fill="#000"/>
<circle cx="427.7" cy="706.9" r="1.65" fill="#000"/>
<circle cx="407.6" cy="705.8" r="1.65" fill="#000"/>
<circle cx="412.7" cy="705.8" r="1.65" fill="#000"/>
<circle cx="414.2" cy="708.0" r="1.65" fill="#000"/>
<circle cx="406.2" cy="710.2" r="1.65" fill="#000"/>
<circle cx="410.5" cy="709.5" r="1.65" fill="#000"/>
<circle cx="416.4" cy="710.2" r="1.65" fill="#000"/>
<circle cx="412.7" cy="712.4" r="1.65" fill="#000"/>
<circle cx="425.9" cy="713.9" r="1.65" fill="#000"/>
<circle cx="432.4" cy="716.1" r="1.65" fill="#000"/>
<circle cx="420.0" cy="714.6" r="1.65" fill="#000"/>
<circle cx="417.8" cy="716.8" r="1.65" fill="#000"/>
<circle cx="406.9" cy="716.1" r="1.65" fill="#000"/>
<circle cx="409.1" cy="718.2" r="1.65" fill="#000"/>
<circle cx="415.7" cy="719.0" r="1.65" fill="#000"/>
<circle cx="412.7" cy="721.2" r="1.65" fill="#000"/>
<circle cx="402.5" cy="720.1" r="1.65" fill="#000"/>
<circle cx="406.2" cy="721.9" r="1.65" fill="#000"/>
<circle cx="417.1" cy="724.5" r="1.65" fill="#000"/>
<circle cx="414.9" cy="726.3" r="1.65" fill="#000"/>
<circle cx="406.9" cy="724.8" r="1.65" fill="#000"/>
<circle cx="400.7" cy="726.3" r="1.65" fill="#000"/>
<circle cx="408.4" cy="728.5" r="1.65" fill="#000"/>
<circle cx="410.5" cy="730.7" r="1.65" fill="#000"/>
<circle cx="399.6" cy="730.7" r="1.65" fill="#000"/>
<circle cx="406.9" cy="732.8" r="1.65" fill="#000"/>
<circle cx="398.1" cy="733.6" r="1.65" fill="#000"/>
<circle cx="402.5" cy="734.3" r="1.65" fill="#000"/>
<circle cx="406.9" cy="745.4" r="1.65" fill="#000"/>
<circle cx="408.4" cy="748.4" r="1.65" fill="#000"/>
<circle cx="400.5" cy="726.2" r="1.65" fill="#000"/>
<circle cx="406.4" cy="730.8" r="1.65" fill="#000"/>
<circle cx="407.5" cy="733.2" r="1.65" fill="#000"/>
<circle cx="410.4" cy="730.8" r="1.65" fill="#000"/>
<circle cx="415.1" cy="726.8" r="1.65" fill="#000"/>
<circle cx="419.8" cy="692.2" r="1.65" fill="#000"/>
<circle cx="422.0" cy="691.5" r="1.65" fill="#000"/>
<circle cx="423.8" cy="695.1" r="1.65" fill="#000"/>
<circle cx="424.2" cy="698.4" r="1.65" fill="#000"/>
<circle cx="422.0" cy="701.0" r="1.65" fill="#000"/>
<circle cx="429.7" cy="701.3" r="1.65" fill="#000"/>
<circle cx="424.6" cy="703.9" r="1.65" fill="#000"/>
<circle cx="427.5" cy="706.6" r="1.65" fill="#000"/>
<circle cx="417.6" cy="699.1" r="1.65" fill="#000"/>
<circle cx="411.8" cy="700.6" r="1.65" fill="#000"/>
<circle cx="414.7" cy="702.0" r="1.65" fill="#000"/>
<circle cx="406.3" cy="702.8" r="1.65" fill="#000"/>
<circle cx="411.8" cy="705.0" r="1.65" fill="#000"/>
<circle cx="416.2" cy="703.9" r="1.65" fill="#000"/>
<circle cx="418.4" cy="705.3" r="1.65" fill="#000"/>
<circle cx="407.4" cy="705.7" r="1.65" fill="#000"/>
<circle cx="412.5" cy="707.5" r="1.65" fill="#000"/>
<circle cx="415.4" cy="708.2" r="1.65" fill="#000"/>
<circle cx="406.0" cy="710.1" r="1.65" fill="#000"/>
<circle cx="409.6" cy="710.4" r="1.65" fill="#000"/>
<circle cx="416.9" cy="710.8" r="1.65" fill="#000"/>
<circle cx="412.9" cy="713.4" r="1.65" fill="#000"/>
<circle cx="410.3" cy="712.6" r="1.65" fill="#000"/>
<circle cx="419.8" cy="714.5" r="1.65" fill="#000"/>
<circle cx="417.6" cy="716.3" r="1.65" fill="#000"/>
<circle cx="426.0" cy="713.9" r="1.65" fill="#000"/>
<circle cx="432.6" cy="716.1" r="1.65" fill="#000"/>
<circle cx="439.2" cy="719.6" r="1.65" fill="#000"/>
<circle cx="406.7" cy="715.9" r="1.65" fill="#000"/>
<circle cx="409.6" cy="716.3" r="1.65" fill="#000"/>
<circle cx="415.4" cy="718.5" r="1.65" fill="#000"/>
<circle cx="406.7" cy="718.5" r="1.65" fill="#000"/>
<circle cx="403.0" cy="719.9" r="1.65" fill="#000"/>
<circle cx="412.5" cy="720.7" r="1.65" fill="#000"/>
<circle cx="410.3" cy="719.2" r="1.65" fill="#000"/>
<circle cx="401.6" cy="721.4" r="1.65" fill="#000"/>
<circle cx="405.9" cy="722.5" r="1.65" fill="#000"/>
<circle cx="417.6" cy="724.3" r="1.65" fill="#000"/>
<circle cx="414.7" cy="726.5" r="1.65" fill="#000"/>
<circle cx="400.8" cy="726.1" r="1.65" fill="#000"/>
<circle cx="405.9" cy="725.8" r="1.65" fill="#000"/>
<circle cx="407.4" cy="728.7" r="1.65" fill="#000"/>
<circle cx="410.3" cy="730.9" r="1.65" fill="#000"/>
<circle cx="399.4" cy="730.1" r="1.65" fill="#000"/>
<circle cx="397.9" cy="733.1" r="1.65" fill="#000"/>
<circle cx="402.3" cy="733.1" r="1.65" fill="#000"/>
<circle cx="407.4" cy="733.8" r="1.65" fill="#000"/>
<circle cx="397.2" cy="736.7" r="1.65" fill="#000"/>
<circle cx="400.8" cy="736.7" r="1.65" fill="#000"/>
<circle cx="405.9" cy="737.4" r="1.65" fill="#000"/>
<circle cx="398.6" cy="694.4" r="1.65" fill="#000"/>
<circle cx="408.9" cy="695.1" r="1.65" fill="#000"/>
<line x1="389.4" y1="730.4" x2="444.4" y2="646.0" stroke="#3366FF" stroke-width="1.85" stroke-linecap="butt"/>
<text x="0" y="0" transform="translate(40.90,326.15) scale(1,1.08)" font-size="7.35" fill="#000"><tspan font-style="italic">R</tspan> = 0.67 , <tspan font-style="italic">p</tspan> &lt; 2.2e−16</text>
<text x="0" y="0" transform="translate(211.90,326.15) scale(1,1.08)" font-size="7.35" fill="#000"><tspan font-style="italic">R</tspan> = 0.93 , <tspan font-style="italic">p</tspan> = 0.072</text>
<text x="0" y="0" transform="translate(382.90,326.15) scale(1,1.08)" font-size="7.35" fill="#000"><tspan font-style="italic">R</tspan> = 0.77 , <tspan font-style="italic">p</tspan> = 0.002</text>
<text x="0" y="0" transform="translate(553.90,326.15) scale(1,1.08)" font-size="7.35" fill="#000"><tspan font-style="italic">R</tspan> = 0.84 , <tspan font-style="italic">p</tspan> &lt; 2.2e−16</text>
<text x="0" y="0" transform="translate(40.90,489.00) scale(1,1.08)" font-size="7.35" fill="#000"><tspan font-style="italic">R</tspan> = 0.85 , <tspan font-style="italic">p</tspan> &lt; 2.2e−16</text>
<text x="0" y="0" transform="translate(211.90,489.00) scale(1,1.08)" font-size="7.35" fill="#000"><tspan font-style="italic">R</tspan> = 0.74 , <tspan font-style="italic">p</tspan> &lt; 2.2e−16</text>
<text x="0" y="0" transform="translate(382.90,489.00) scale(1,1.08)" font-size="7.35" fill="#000"><tspan font-style="italic">R</tspan> = 0.84 , <tspan font-style="italic">p</tspan> = 2.3e−14</text>
<text x="0" y="0" transform="translate(553.90,489.00) scale(1,1.08)" font-size="7.35" fill="#000"><tspan font-style="italic">R</tspan> = 0.76 , <tspan font-style="italic">p</tspan> = 2.5e−05</text>
<text x="0" y="0" transform="translate(40.90,651.85) scale(1,1.08)" font-size="7.35" fill="#000"><tspan font-style="italic">R</tspan> = 0.51 , <tspan font-style="italic">p</tspan> = 5.6e−05</text>
<text x="0" y="0" transform="translate(211.90,651.85) scale(1,1.08)" font-size="7.35" fill="#000"><tspan font-style="italic">R</tspan> = 0.76 , <tspan font-style="italic">p</tspan> = 4.8e−11</text>
<text x="0" y="0" transform="translate(382.90,651.85) scale(1,1.08)" font-size="7.35" fill="#000"><tspan font-style="italic">R</tspan> = 0.6 , <tspan font-style="italic">p</tspan> &lt; 2.2e−16</text></svg>
</body></html>
